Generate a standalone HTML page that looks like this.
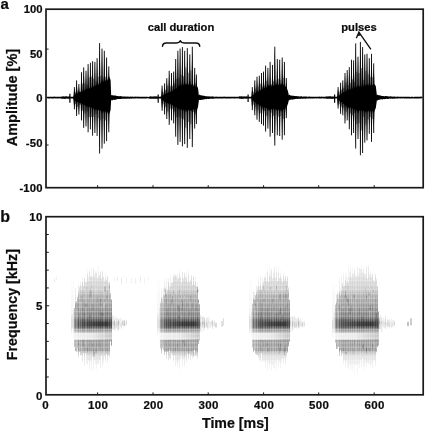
<!DOCTYPE html>
<html><head><meta charset="utf-8"><title>Oscillogram and spectrogram</title>
<style>
html,body{margin:0;padding:0;background:#fff;}
body{width:425px;height:432px;overflow:hidden;}
svg{display:block;}
text{font-family:"Liberation Sans",sans-serif;font-weight:bold;fill:#0c0c0c;stroke:#0c0c0c;stroke-width:0.22px;}
</style></head>
<body>
<svg width="425" height="432" viewBox="0 0 425 432">
<defs>
<filter id="soft" x="0" y="0" width="100%" height="100%" filterUnits="userSpaceOnUse"><feGaussianBlur stdDeviation="0.4 0.3"/></filter>
<linearGradient id="sg" gradientUnits="userSpaceOnUse" x1="0" y1="262" x2="0" y2="378">
<stop offset="0.0000" stop-color="#000" stop-opacity="0"/>
<stop offset="0.0431" stop-color="#000" stop-opacity="0.07"/>
<stop offset="0.1207" stop-color="#000" stop-opacity="0.12"/>
<stop offset="0.1897" stop-color="#000" stop-opacity="0.17"/>
<stop offset="0.2500" stop-color="#000" stop-opacity="0.21"/>
<stop offset="0.2802" stop-color="#000" stop-opacity="0.31"/>
<stop offset="0.3534" stop-color="#000" stop-opacity="0.37"/>
<stop offset="0.4138" stop-color="#000" stop-opacity="0.44"/>
<stop offset="0.4871" stop-color="#000" stop-opacity="0.54"/>
<stop offset="0.4983" stop-color="#000" stop-opacity="0.66"/>
<stop offset="0.5629" stop-color="#000" stop-opacity="0.66"/>
<stop offset="0.5819" stop-color="#000" stop-opacity="0.44"/>
<stop offset="0.6121" stop-color="#000" stop-opacity="0.24"/>
<stop offset="0.6595" stop-color="#000" stop-opacity="0.2"/>
<stop offset="0.6767" stop-color="#000" stop-opacity="0.4"/>
<stop offset="0.7672" stop-color="#000" stop-opacity="0.38"/>
<stop offset="0.7845" stop-color="#000" stop-opacity="0.2"/>
<stop offset="0.8276" stop-color="#000" stop-opacity="0.1"/>
<stop offset="0.8966" stop-color="#000" stop-opacity="0.05"/>
<stop offset="1.0000" stop-color="#000" stop-opacity="0"/>
</linearGradient>
<linearGradient id="gapg" x1="0" y1="0" x2="1" y2="0"><stop offset="0" stop-color="#fff" stop-opacity="0.7"/><stop offset="0.5" stop-color="#fff" stop-opacity="0.6"/><stop offset="1" stop-color="#fff" stop-opacity="0"/></linearGradient>
<linearGradient id="bandg0" x1="0" y1="0" x2="1" y2="0"><stop offset="0" stop-color="#000" stop-opacity="0.0"/><stop offset="0.3" stop-color="#000" stop-opacity="0.2"/><stop offset="0.55" stop-color="#000" stop-opacity="0.36"/><stop offset="0.85" stop-color="#000" stop-opacity="0.42"/><stop offset="1" stop-color="#000" stop-opacity="0.12"/></linearGradient>
<linearGradient id="bandg1" x1="0" y1="0" x2="1" y2="0"><stop offset="0" stop-color="#000" stop-opacity="0.0"/><stop offset="0.3" stop-color="#000" stop-opacity="0.2"/><stop offset="0.55" stop-color="#000" stop-opacity="0.36"/><stop offset="0.85" stop-color="#000" stop-opacity="0.42"/><stop offset="1" stop-color="#000" stop-opacity="0.12"/></linearGradient>
<linearGradient id="bandg2" x1="0" y1="0" x2="1" y2="0"><stop offset="0" stop-color="#000" stop-opacity="0.0"/><stop offset="0.3" stop-color="#000" stop-opacity="0.2"/><stop offset="0.55" stop-color="#000" stop-opacity="0.36"/><stop offset="0.85" stop-color="#000" stop-opacity="0.42"/><stop offset="1" stop-color="#000" stop-opacity="0.12"/></linearGradient>
<linearGradient id="bandg3" x1="0" y1="0" x2="1" y2="0"><stop offset="0" stop-color="#000" stop-opacity="0.0"/><stop offset="0.3" stop-color="#000" stop-opacity="0.2"/><stop offset="0.55" stop-color="#000" stop-opacity="0.36"/><stop offset="0.85" stop-color="#000" stop-opacity="0.42"/><stop offset="1" stop-color="#000" stop-opacity="0.12"/></linearGradient>
</defs>
<rect width="425" height="432" fill="#fff"/>
<g id="spectrogram" filter="url(#soft)">
<rect x="71" y="279.67" width="1" height="35.66" fill="url(#sg)" opacity="0.08"/>
<rect x="71" y="315.32" width="1" height="18.48" fill="url(#sg)" opacity="0.19"/>
<rect x="72" y="287.33" width="1" height="27.45" fill="url(#sg)" opacity="0.07"/>
<rect x="72" y="314.78" width="1" height="13.83" fill="url(#sg)" opacity="0.17"/>
<rect x="73" y="280.36" width="1" height="29.86" fill="url(#sg)" opacity="0.09"/>
<rect x="73" y="310.22" width="1" height="28.21" fill="url(#sg)" opacity="0.22"/>
<rect x="74" y="307.88" width="1" height="38.94" fill="url(#sg)" opacity="0.6"/>
<rect x="75" y="288.11" width="1" height="14" fill="url(#sg)" opacity="0.32"/>
<rect x="75" y="302.11" width="1" height="48.98" fill="url(#sg)" opacity="0.77"/>
<rect x="76" y="301.15" width="1" height="50.84" fill="url(#sg)" opacity="0.61"/>
<rect x="77" y="296.84" width="1" height="51.33" fill="url(#sg)" opacity="0.69"/>
<rect x="78" y="284.71" width="1" height="7.91" fill="url(#sg)" opacity="0.42"/>
<rect x="78" y="292.62" width="1" height="64.96" fill="url(#sg)" opacity="1"/>
<rect x="79" y="287.28" width="1" height="64.55" fill="url(#sg)" opacity="0.68"/>
<rect x="80" y="281.63" width="1" height="4.19" fill="url(#sg)" opacity="0.37"/>
<rect x="80" y="285.82" width="1" height="69.46" fill="url(#sg)" opacity="0.89"/>
<rect x="81" y="284.73" width="1" height="5.19" fill="url(#sg)" opacity="0.29"/>
<rect x="81" y="289.93" width="1" height="65.83" fill="url(#sg)" opacity="0.7"/>
<rect x="82" y="277.19" width="1" height="4.72" fill="url(#sg)" opacity="0.42"/>
<rect x="82" y="281.91" width="1" height="80.04" fill="url(#sg)" opacity="1"/>
<rect x="83" y="286.19" width="1" height="66.87" fill="url(#sg)" opacity="0.87"/>
<rect x="84" y="276.77" width="1" height="2.05" fill="url(#sg)" opacity="0.42"/>
<rect x="84" y="278.82" width="1" height="87.12" fill="url(#sg)" opacity="1"/>
<rect x="85" y="282.34" width="1" height="71.43" fill="url(#sg)" opacity="0.73"/>
<rect x="86" y="279.67" width="1" height="2.4" fill="url(#sg)" opacity="0.33"/>
<rect x="86" y="282.07" width="1" height="81.27" fill="url(#sg)" opacity="0.77"/>
<rect x="87" y="269.73" width="1" height="3.47" fill="url(#sg)" opacity="0.42"/>
<rect x="87" y="273.21" width="1" height="91.34" fill="url(#sg)" opacity="1"/>
<rect x="88" y="276.24" width="1" height="4.9" fill="url(#sg)" opacity="0.36"/>
<rect x="88" y="281.14" width="1" height="79.86" fill="url(#sg)" opacity="0.85"/>
<rect x="89" y="270.53" width="1" height="99.62" fill="url(#sg)" opacity="1"/>
<rect x="90" y="276.16" width="1" height="85.1" fill="url(#sg)" opacity="0.86"/>
<rect x="91" y="267.52" width="1" height="8.93" fill="url(#sg)" opacity="0.42"/>
<rect x="91" y="276.45" width="1" height="95.12" fill="url(#sg)" opacity="1"/>
<rect x="92" y="276.79" width="1" height="80.69" fill="url(#sg)" opacity="0.76"/>
<rect x="93" y="268.44" width="1" height="101.5" fill="url(#sg)" opacity="1"/>
<rect x="94" y="274.55" width="1" height="85.94" fill="url(#sg)" opacity="0.87"/>
<rect x="95" y="271.38" width="1" height="93.14" fill="url(#sg)" opacity="0.81"/>
<rect x="96" y="270.52" width="1" height="2.26" fill="url(#sg)" opacity="0.42"/>
<rect x="96" y="272.78" width="1" height="96.92" fill="url(#sg)" opacity="1"/>
<rect x="97" y="278.61" width="1" height="85.58" fill="url(#sg)" opacity="0.79"/>
<rect x="98" y="265.18" width="1" height="10.34" fill="url(#sg)" opacity="0.42"/>
<rect x="98" y="275.51" width="1" height="89.01" fill="url(#sg)" opacity="1"/>
<rect x="99" y="274.98" width="1" height="85.54" fill="url(#sg)" opacity="0.88"/>
<rect x="100" y="271.48" width="1" height="96.17" fill="url(#sg)" opacity="1"/>
<rect x="101" y="278.38" width="1" height="77.41" fill="url(#sg)" opacity="0.87"/>
<rect x="102" y="270.47" width="1" height="96.08" fill="url(#sg)" opacity="1"/>
<rect x="103" y="276.77" width="1" height="86.23" fill="url(#sg)" opacity="0.77"/>
<rect x="104" y="280.55" width="1" height="75.82" fill="url(#sg)" opacity="0.75"/>
<rect x="105" y="270.46" width="1" height="7.79" fill="url(#sg)" opacity="0.42"/>
<rect x="105" y="278.25" width="1" height="82.83" fill="url(#sg)" opacity="1"/>
<rect x="106" y="279.91" width="1" height="74.41" fill="url(#sg)" opacity="0.9"/>
<rect x="107" y="276.23" width="1" height="86.82" fill="url(#sg)" opacity="1"/>
<rect x="108" y="282.91" width="1" height="72.29" fill="url(#sg)" opacity="0.76"/>
<rect x="109" y="281.29" width="1" height="1.04" fill="url(#sg)" opacity="0.42"/>
<rect x="109" y="282.32" width="1" height="75.22" fill="url(#sg)" opacity="1"/>
<rect x="110" y="292.98" width="1" height="48.21" fill="url(#sg)" opacity="0.83"/>
<rect x="111" y="299.51" width="1" height="46.08" fill="url(#sg)" opacity="1"/>
<rect x="83" y="349.29" width="1" height="5.4" fill="#fff" opacity="0.09"/>
<rect x="86" y="287.13" width="1" height="3.25" fill="#000" opacity="0.11"/>
<rect x="97" y="297.1" width="1" height="5.89" fill="#000" opacity="0.11"/>
<rect x="109" y="285.22" width="1" height="2.51" fill="#000" opacity="0.11"/>
<rect x="100" y="349.95" width="1" height="4.05" fill="#fff" opacity="0.07"/>
<rect x="99" y="341.47" width="1" height="5.19" fill="#000" opacity="0.1"/>
<rect x="77" y="347.54" width="1" height="4.9" fill="#000" opacity="0.09"/>
<rect x="89" y="315.09" width="2" height="3.06" fill="#000" opacity="0.14"/>
<rect x="103" y="304.3" width="1" height="3.77" fill="#fff" opacity="0.12"/>
<rect x="104" y="298.98" width="2" height="3.77" fill="#fff" opacity="0.07"/>
<rect x="88" y="292.11" width="1" height="3.79" fill="#fff" opacity="0.08"/>
<rect x="92" y="303.95" width="1" height="6.27" fill="#000" opacity="0.14"/>
<rect x="107" y="349.98" width="1" height="5.29" fill="#000" opacity="0.07"/>
<rect x="85" y="303.46" width="2" height="3.73" fill="#000" opacity="0.15"/>
<rect x="103" y="289.37" width="1" height="2.99" fill="#fff" opacity="0.1"/>
<rect x="101" y="312.25" width="2" height="3.17" fill="#000" opacity="0.11"/>
<rect x="77" y="288.62" width="1" height="4.7" fill="#fff" opacity="0.05"/>
<rect x="104" y="302" width="1" height="4.13" fill="#fff" opacity="0.11"/>
<rect x="81" y="295.53" width="1" height="6.04" fill="#000" opacity="0.11"/>
<rect x="102" y="288.62" width="1" height="2.47" fill="#fff" opacity="0.08"/>
<rect x="102" y="313.19" width="2" height="3.26" fill="#000" opacity="0.09"/>
<rect x="87" y="351.81" width="1" height="6.87" fill="#fff" opacity="0.12"/>
<rect x="87" y="347.04" width="1" height="5.92" fill="#000" opacity="0.13"/>
<rect x="106" y="301.45" width="1" height="2.95" fill="#fff" opacity="0.1"/>
<rect x="98" y="347.34" width="1" height="5.13" fill="#fff" opacity="0.1"/>
<rect x="99" y="290.8" width="1" height="5.32" fill="#fff" opacity="0.09"/>
<rect x="79" y="313.78" width="1" height="4.81" fill="#000" opacity="0.09"/>
<rect x="90" y="294.19" width="2" height="4.84" fill="#000" opacity="0.07"/>
<rect x="103" y="302.41" width="2" height="4.97" fill="#fff" opacity="0.11"/>
<rect x="80" y="301.56" width="1" height="6.48" fill="#fff" opacity="0.09"/>
<rect x="75" y="305.42" width="1" height="2.64" fill="#000" opacity="0.13"/>
<rect x="83" y="340.6" width="1" height="5.65" fill="#000" opacity="0.12"/>
<rect x="100" y="298.74" width="1" height="2.06" fill="#000" opacity="0.13"/>
<rect x="104" y="286.55" width="2" height="5.04" fill="#000" opacity="0.15"/>
<rect x="100" y="299.03" width="1" height="6.77" fill="#000" opacity="0.14"/>
<rect x="92" y="343.26" width="1" height="3.46" fill="#000" opacity="0.16"/>
<rect x="100" y="310.48" width="1" height="5.01" fill="#000" opacity="0.1"/>
<rect x="106" y="296.05" width="2" height="3.42" fill="#000" opacity="0.09"/>
<rect x="90" y="302.77" width="1" height="6.17" fill="#fff" opacity="0.13"/>
<rect x="95" y="349.68" width="2" height="3.73" fill="#000" opacity="0.12"/>
<rect x="103" y="290.41" width="1" height="5.03" fill="#fff" opacity="0.09"/>
<rect x="82" y="308.04" width="1" height="4.68" fill="#000" opacity="0.07"/>
<rect x="89" y="292.31" width="2" height="4.53" fill="#000" opacity="0.08"/>
<rect x="78" y="293.27" width="2" height="5.9" fill="#fff" opacity="0.07"/>
<rect x="107" y="311.72" width="1" height="2.78" fill="#000" opacity="0.09"/>
<rect x="93" y="351.88" width="2" height="4.93" fill="#000" opacity="0.15"/>
<rect x="85" y="347.12" width="1" height="3.27" fill="#000" opacity="0.08"/>
<rect x="81" y="346.69" width="2" height="4.43" fill="#fff" opacity="0.13"/>
<rect x="105" y="304.47" width="1" height="3.59" fill="#000" opacity="0.07"/>
<rect x="107" y="289.85" width="1" height="6.96" fill="#000" opacity="0.06"/>
<rect x="84" y="295.26" width="1" height="5.93" fill="#fff" opacity="0.11"/>
<rect x="109" y="285.78" width="1" height="4.95" fill="#000" opacity="0.13"/>
<rect x="91" y="296.48" width="1" height="4.21" fill="#fff" opacity="0.13"/>
<rect x="106" y="298.97" width="1" height="2.39" fill="#fff" opacity="0.08"/>
<rect x="101" y="314.65" width="1" height="5.14" fill="#000" opacity="0.09"/>
<rect x="104" y="299.28" width="1" height="2.9" fill="#000" opacity="0.15"/>
<rect x="90" y="288.78" width="1" height="4.85" fill="#000" opacity="0.14"/>
<rect x="84" y="287.5" width="1" height="5.16" fill="#fff" opacity="0.13"/>
<rect x="95" y="287.81" width="2" height="6.96" fill="#fff" opacity="0.13"/>
<rect x="78" y="340.69" width="1" height="2.72" fill="#fff" opacity="0.09"/>
<rect x="93" y="349.47" width="1" height="2.93" fill="#000" opacity="0.15"/>
<rect x="83" y="302.28" width="1" height="2.98" fill="#000" opacity="0.07"/>
<rect x="96" y="342.47" width="1" height="4.91" fill="#000" opacity="0.07"/>
<rect x="101" y="307.09" width="1" height="3.41" fill="#fff" opacity="0.14"/>
<rect x="78" y="341.6" width="1" height="3.24" fill="#000" opacity="0.16"/>
<rect x="76" y="302.4" width="2" height="6.84" fill="#000" opacity="0.1"/>
<rect x="84" y="313.2" width="1" height="3.46" fill="#000" opacity="0.13"/>
<rect x="91" y="284.82" width="1" height="3.12" fill="#000" opacity="0.07"/>
<rect x="84" y="341.16" width="1" height="3.31" fill="#fff" opacity="0.11"/>
<rect x="91" y="291.63" width="1" height="2.23" fill="#000" opacity="0.11"/>
<rect x="73" y="332.8" width="36.9" height="7" fill="url(#gapg)"/>
<rect x="74" y="321.6" width="38" height="4.6" fill="url(#bandg0)"/>
<rect x="112" y="315.36" width="1" height="14" fill="#000" opacity="0.1"/>
<rect x="112" y="321.31" width="1" height="3.41" fill="#000" opacity="0.09"/>
<rect x="113" y="315.47" width="1" height="13.95" fill="#000" opacity="0.09"/>
<rect x="113" y="321.65" width="1" height="5.24" fill="#000" opacity="0.08"/>
<rect x="114" y="319.42" width="1" height="10.79" fill="#000" opacity="0.16"/>
<rect x="114" y="321.28" width="1" height="4.26" fill="#000" opacity="0.14"/>
<rect x="115" y="316.07" width="1" height="14.24" fill="#000" opacity="0.06"/>
<rect x="115" y="322.38" width="1" height="5.33" fill="#000" opacity="0.06"/>
<rect x="116" y="317.69" width="1" height="10.63" fill="#000" opacity="0.08"/>
<rect x="116" y="321.37" width="1" height="5.94" fill="#000" opacity="0.07"/>
<rect x="117" y="318.03" width="1" height="12.83" fill="#000" opacity="0.09"/>
<rect x="117" y="322.2" width="1" height="3.16" fill="#000" opacity="0.08"/>
<rect x="118" y="319.55" width="1" height="10.5" fill="#000" opacity="0.15"/>
<rect x="118" y="321" width="1" height="4.27" fill="#000" opacity="0.14"/>
<rect x="119" y="318.29" width="1" height="10.6" fill="#000" opacity="0.05"/>
<rect x="119" y="320.64" width="1" height="4.3" fill="#000" opacity="0.04"/>
<rect x="120" y="317.8" width="1" height="9.23" fill="#000" opacity="0.05"/>
<rect x="120" y="322.44" width="1" height="5.33" fill="#000" opacity="0.04"/>
<rect x="121" y="318.82" width="1" height="11.22" fill="#000" opacity="0.06"/>
<rect x="121" y="322.27" width="1" height="5.65" fill="#000" opacity="0.05"/>
<rect x="122" y="320.19" width="1" height="5.21" fill="#000" opacity="0.11"/>
<rect x="122" y="321.86" width="1" height="3.82" fill="#000" opacity="0.09"/>
<rect x="123" y="320.04" width="1" height="7.65" fill="#000" opacity="0.07"/>
<rect x="123" y="321" width="1" height="4.56" fill="#000" opacity="0.06"/>
<rect x="124" y="319.66" width="1" height="6.4" fill="#000" opacity="0.12"/>
<rect x="124" y="321.11" width="1" height="4.94" fill="#000" opacity="0.11"/>
<rect x="125" y="322.91" width="1" height="3.92" fill="#000" opacity="0.05"/>
<rect x="125" y="321.53" width="1" height="3.81" fill="#000" opacity="0.04"/>
<rect x="126" y="319.75" width="1" height="5.4" fill="#000" opacity="0.08"/>
<rect x="126" y="320.75" width="1" height="3.39" fill="#000" opacity="0.07"/>
<rect x="157" y="278.56" width="1" height="36.88" fill="url(#sg)" opacity="0.08"/>
<rect x="157" y="315.43" width="1" height="19.82" fill="url(#sg)" opacity="0.19"/>
<rect x="158" y="286.99" width="1" height="27.18" fill="url(#sg)" opacity="0.07"/>
<rect x="158" y="314.17" width="1" height="17.78" fill="url(#sg)" opacity="0.17"/>
<rect x="159" y="279.91" width="1" height="27.91" fill="url(#sg)" opacity="0.09"/>
<rect x="159" y="307.81" width="1" height="31.87" fill="url(#sg)" opacity="0.22"/>
<rect x="160" y="302.73" width="1" height="45.69" fill="url(#sg)" opacity="0.56"/>
<rect x="161" y="290.68" width="1" height="7.51" fill="url(#sg)" opacity="0.31"/>
<rect x="161" y="298.19" width="1" height="55.49" fill="url(#sg)" opacity="0.73"/>
<rect x="162" y="297.46" width="1" height="4.74" fill="url(#sg)" opacity="0.27"/>
<rect x="162" y="302.21" width="1" height="45.99" fill="url(#sg)" opacity="0.64"/>
<rect x="163" y="287.77" width="1" height="6.63" fill="url(#sg)" opacity="0.26"/>
<rect x="163" y="294.4" width="1" height="55.55" fill="url(#sg)" opacity="0.61"/>
<rect x="164" y="279.27" width="1" height="16.34" fill="url(#sg)" opacity="0.38"/>
<rect x="164" y="295.6" width="1" height="59.5" fill="url(#sg)" opacity="0.91"/>
<rect x="165" y="287.17" width="1" height="2.7" fill="url(#sg)" opacity="0.33"/>
<rect x="165" y="289.87" width="1" height="62" fill="url(#sg)" opacity="0.78"/>
<rect x="166" y="277.72" width="1" height="15.53" fill="url(#sg)" opacity="0.42"/>
<rect x="166" y="293.25" width="1" height="65.78" fill="url(#sg)" opacity="1"/>
<rect x="167" y="289.69" width="1" height="62.14" fill="url(#sg)" opacity="0.8"/>
<rect x="168" y="278.24" width="1" height="4.28" fill="url(#sg)" opacity="0.42"/>
<rect x="168" y="282.52" width="1" height="78.02" fill="url(#sg)" opacity="1"/>
<rect x="169" y="286.28" width="1" height="2.84" fill="url(#sg)" opacity="0.36"/>
<rect x="169" y="289.13" width="1" height="61.42" fill="url(#sg)" opacity="0.86"/>
<rect x="170" y="275.1" width="1" height="11.37" fill="url(#sg)" opacity="0.42"/>
<rect x="170" y="286.48" width="1" height="72.99" fill="url(#sg)" opacity="1"/>
<rect x="171" y="282.61" width="1" height="70.83" fill="url(#sg)" opacity="0.8"/>
<rect x="172" y="279.61" width="1" height="3.38" fill="url(#sg)" opacity="0.33"/>
<rect x="172" y="283" width="1" height="72.1" fill="url(#sg)" opacity="0.79"/>
<rect x="173" y="273.4" width="1" height="2.64" fill="url(#sg)" opacity="0.42"/>
<rect x="173" y="276.04" width="1" height="85.51" fill="url(#sg)" opacity="1"/>
<rect x="174" y="275.22" width="1" height="80.53" fill="url(#sg)" opacity="0.83"/>
<rect x="175" y="274.9" width="1" height="91.13" fill="url(#sg)" opacity="1"/>
<rect x="176" y="275.86" width="1" height="86.03" fill="url(#sg)" opacity="0.73"/>
<rect x="177" y="274.44" width="1" height="4.79" fill="url(#sg)" opacity="0.42"/>
<rect x="177" y="279.23" width="1" height="87.62" fill="url(#sg)" opacity="1"/>
<rect x="178" y="278.24" width="1" height="83.09" fill="url(#sg)" opacity="0.85"/>
<rect x="179" y="269.46" width="1" height="4.29" fill="url(#sg)" opacity="0.42"/>
<rect x="179" y="273.75" width="1" height="95.83" fill="url(#sg)" opacity="1"/>
<rect x="180" y="276.18" width="1" height="1.11" fill="url(#sg)" opacity="0.33"/>
<rect x="180" y="277.3" width="1" height="81.63" fill="url(#sg)" opacity="0.79"/>
<rect x="181" y="282.75" width="1" height="73.92" fill="url(#sg)" opacity="0.8"/>
<rect x="182" y="271.68" width="1" height="94.97" fill="url(#sg)" opacity="1"/>
<rect x="183" y="278.73" width="1" height="80.01" fill="url(#sg)" opacity="0.81"/>
<rect x="184" y="272.74" width="1" height="94.05" fill="url(#sg)" opacity="1"/>
<rect x="185" y="276.13" width="1" height="81.31" fill="url(#sg)" opacity="0.81"/>
<rect x="186" y="271.41" width="1" height="7.03" fill="url(#sg)" opacity="0.42"/>
<rect x="186" y="278.44" width="1" height="84.01" fill="url(#sg)" opacity="1"/>
<rect x="187" y="282.36" width="1" height="71.14" fill="url(#sg)" opacity="0.8"/>
<rect x="188" y="268.23" width="1" height="6.13" fill="url(#sg)" opacity="0.42"/>
<rect x="188" y="274.36" width="1" height="84.54" fill="url(#sg)" opacity="1"/>
<rect x="189" y="281.9" width="1" height="72" fill="url(#sg)" opacity="0.81"/>
<rect x="190" y="280.41" width="1" height="80.22" fill="url(#sg)" opacity="0.83"/>
<rect x="191" y="275.32" width="1" height="80.38" fill="url(#sg)" opacity="1"/>
<rect x="192" y="284.78" width="1" height="73.74" fill="url(#sg)" opacity="0.83"/>
<rect x="193" y="276.73" width="1" height="79.62" fill="url(#sg)" opacity="1"/>
<rect x="194" y="284.42" width="1" height="65.45" fill="url(#sg)" opacity="0.74"/>
<rect x="195" y="275.82" width="1" height="6.26" fill="url(#sg)" opacity="0.42"/>
<rect x="195" y="282.07" width="1" height="73.71" fill="url(#sg)" opacity="0.99"/>
<rect x="196" y="286.37" width="1" height="69.96" fill="url(#sg)" opacity="0.8"/>
<rect x="197" y="283.27" width="1" height="3.72" fill="url(#sg)" opacity="0.42"/>
<rect x="197" y="286.99" width="1" height="71.46" fill="url(#sg)" opacity="1"/>
<rect x="198" y="299.89" width="1" height="44.06" fill="url(#sg)" opacity="0.83"/>
<rect x="199" y="304.25" width="1" height="36.01" fill="url(#sg)" opacity="0.85"/>
<rect x="179" y="291.79" width="2" height="2.93" fill="#fff" opacity="0.08"/>
<rect x="182" y="301.08" width="1" height="6.81" fill="#000" opacity="0.15"/>
<rect x="181" y="298.94" width="1" height="3.4" fill="#000" opacity="0.14"/>
<rect x="170" y="288.16" width="2" height="4.34" fill="#fff" opacity="0.07"/>
<rect x="175" y="347.55" width="1" height="3.49" fill="#000" opacity="0.08"/>
<rect x="193" y="351.98" width="2" height="4.94" fill="#000" opacity="0.08"/>
<rect x="184" y="341.47" width="1" height="4.71" fill="#000" opacity="0.14"/>
<rect x="175" y="302.17" width="1" height="5.47" fill="#fff" opacity="0.07"/>
<rect x="168" y="350.97" width="1" height="2.96" fill="#fff" opacity="0.06"/>
<rect x="172" y="296.77" width="1" height="6.68" fill="#000" opacity="0.1"/>
<rect x="191" y="340.3" width="2" height="3.24" fill="#fff" opacity="0.08"/>
<rect x="184" y="350.95" width="1" height="5.56" fill="#000" opacity="0.06"/>
<rect x="167" y="290.34" width="1" height="5.15" fill="#fff" opacity="0.1"/>
<rect x="169" y="351.11" width="1" height="6.68" fill="#000" opacity="0.14"/>
<rect x="185" y="347.02" width="1" height="6.87" fill="#fff" opacity="0.05"/>
<rect x="173" y="295.06" width="2" height="6.99" fill="#fff" opacity="0.07"/>
<rect x="181" y="314.39" width="2" height="4.54" fill="#fff" opacity="0.07"/>
<rect x="186" y="311.09" width="1" height="6.76" fill="#fff" opacity="0.1"/>
<rect x="167" y="308.99" width="1" height="6.82" fill="#000" opacity="0.09"/>
<rect x="164" y="288.39" width="2" height="3.19" fill="#000" opacity="0.11"/>
<rect x="177" y="343.59" width="1" height="4.94" fill="#000" opacity="0.12"/>
<rect x="165" y="297.59" width="2" height="6.2" fill="#000" opacity="0.08"/>
<rect x="187" y="299.57" width="1" height="2.99" fill="#fff" opacity="0.09"/>
<rect x="165" y="294.38" width="1" height="2.23" fill="#000" opacity="0.16"/>
<rect x="179" y="294.62" width="1" height="5.23" fill="#fff" opacity="0.09"/>
<rect x="190" y="295.5" width="1" height="5.27" fill="#000" opacity="0.13"/>
<rect x="162" y="344.41" width="1" height="2.51" fill="#fff" opacity="0.08"/>
<rect x="184" y="296.14" width="1" height="2.68" fill="#fff" opacity="0.13"/>
<rect x="170" y="349.63" width="2" height="6.53" fill="#fff" opacity="0.09"/>
<rect x="179" y="289.04" width="1" height="5.44" fill="#000" opacity="0.1"/>
<rect x="197" y="286.87" width="1" height="5.61" fill="#000" opacity="0.14"/>
<rect x="193" y="343.4" width="1" height="4.57" fill="#000" opacity="0.09"/>
<rect x="177" y="305.32" width="2" height="3.48" fill="#000" opacity="0.12"/>
<rect x="174" y="286.72" width="2" height="6.86" fill="#fff" opacity="0.13"/>
<rect x="197" y="314.78" width="1" height="5.05" fill="#000" opacity="0.12"/>
<rect x="196" y="304.72" width="1" height="6.24" fill="#000" opacity="0.13"/>
<rect x="187" y="302.53" width="1" height="4.65" fill="#000" opacity="0.1"/>
<rect x="165" y="289.78" width="1" height="6.31" fill="#000" opacity="0.07"/>
<rect x="181" y="292.05" width="1" height="5.68" fill="#fff" opacity="0.1"/>
<rect x="193" y="341.61" width="1" height="5.13" fill="#fff" opacity="0.1"/>
<rect x="178" y="305.95" width="2" height="5.87" fill="#000" opacity="0.14"/>
<rect x="163" y="340.18" width="1" height="4.3" fill="#000" opacity="0.07"/>
<rect x="195" y="286.81" width="1" height="2.84" fill="#fff" opacity="0.08"/>
<rect x="189" y="310.42" width="1" height="5.61" fill="#000" opacity="0.12"/>
<rect x="165" y="341.36" width="1" height="3.27" fill="#000" opacity="0.1"/>
<rect x="192" y="302.6" width="1" height="6" fill="#000" opacity="0.12"/>
<rect x="172" y="296.19" width="1" height="6.74" fill="#000" opacity="0.09"/>
<rect x="167" y="300.06" width="1" height="2.91" fill="#fff" opacity="0.11"/>
<rect x="176" y="289.07" width="1" height="6.37" fill="#fff" opacity="0.06"/>
<rect x="173" y="290.92" width="1" height="2.85" fill="#000" opacity="0.11"/>
<rect x="182" y="340.07" width="2" height="3.67" fill="#000" opacity="0.11"/>
<rect x="197" y="288.67" width="2" height="3.37" fill="#000" opacity="0.09"/>
<rect x="182" y="300.9" width="1" height="6.36" fill="#fff" opacity="0.11"/>
<rect x="184" y="295.61" width="1" height="3.52" fill="#fff" opacity="0.12"/>
<rect x="180" y="295.21" width="1" height="2.3" fill="#000" opacity="0.09"/>
<rect x="198" y="299.41" width="1" height="2.75" fill="#000" opacity="0.15"/>
<rect x="186" y="296.96" width="1" height="2.72" fill="#fff" opacity="0.07"/>
<rect x="182" y="305.08" width="1" height="4.92" fill="#000" opacity="0.1"/>
<rect x="178" y="315.06" width="2" height="3.6" fill="#000" opacity="0.15"/>
<rect x="181" y="308.27" width="1" height="2.24" fill="#000" opacity="0.15"/>
<rect x="171" y="300.06" width="1" height="5.01" fill="#000" opacity="0.14"/>
<rect x="193" y="342.26" width="1" height="5.2" fill="#fff" opacity="0.07"/>
<rect x="173" y="344.86" width="1" height="2.87" fill="#fff" opacity="0.12"/>
<rect x="164" y="308.83" width="1" height="6.7" fill="#fff" opacity="0.05"/>
<rect x="173" y="344.98" width="1" height="2.78" fill="#000" opacity="0.08"/>
<rect x="181" y="295.45" width="1" height="5.29" fill="#fff" opacity="0.08"/>
<rect x="188" y="349.16" width="1" height="5.26" fill="#000" opacity="0.13"/>
<rect x="182" y="300.95" width="1" height="4.79" fill="#000" opacity="0.14"/>
<rect x="197" y="288.82" width="1" height="5.12" fill="#000" opacity="0.11"/>
<rect x="169" y="347.27" width="1" height="6.51" fill="#fff" opacity="0.13"/>
<rect x="159" y="332.8" width="38.7" height="7" fill="url(#gapg)"/>
<rect x="160" y="321.6" width="40" height="4.6" fill="url(#bandg1)"/>
<rect x="200" y="315.22" width="1" height="15.67" fill="#000" opacity="0.13"/>
<rect x="200" y="321.92" width="1" height="4.32" fill="#000" opacity="0.12"/>
<rect x="201" y="316.96" width="1" height="15.56" fill="#000" opacity="0.05"/>
<rect x="201" y="322.3" width="1" height="4.17" fill="#000" opacity="0.04"/>
<rect x="202" y="316.54" width="1" height="11.07" fill="#000" opacity="0.15"/>
<rect x="202" y="321.82" width="1" height="3.05" fill="#000" opacity="0.14"/>
<rect x="203" y="317" width="1" height="14.04" fill="#000" opacity="0.09"/>
<rect x="203" y="321.2" width="1" height="3.68" fill="#000" opacity="0.08"/>
<rect x="204" y="317.7" width="1" height="10.86" fill="#000" opacity="0.16"/>
<rect x="204" y="321.81" width="1" height="5.58" fill="#000" opacity="0.14"/>
<rect x="205" y="320.04" width="1" height="8.18" fill="#000" opacity="0.03"/>
<rect x="205" y="320.98" width="1" height="4.06" fill="#000" opacity="0.03"/>
<rect x="206" y="318.16" width="1" height="9.36" fill="#000" opacity="0.1"/>
<rect x="206" y="322.26" width="1" height="4.5" fill="#000" opacity="0.09"/>
<rect x="207" y="317.09" width="1" height="12.69" fill="#000" opacity="0.07"/>
<rect x="207" y="322.37" width="1" height="5.31" fill="#000" opacity="0.07"/>
<rect x="208" y="316.94" width="1" height="11.93" fill="#000" opacity="0.06"/>
<rect x="208" y="320.68" width="1" height="3.01" fill="#000" opacity="0.06"/>
<rect x="209" y="317.54" width="1" height="10.83" fill="#000" opacity="0.04"/>
<rect x="209" y="321.72" width="1" height="5.87" fill="#000" opacity="0.03"/>
<rect x="210" y="321.21" width="1" height="6.27" fill="#000" opacity="0.05"/>
<rect x="210" y="322.2" width="1" height="5.21" fill="#000" opacity="0.04"/>
<rect x="211" y="320.98" width="1" height="4.68" fill="#000" opacity="0.06"/>
<rect x="211" y="321.37" width="1" height="3.42" fill="#000" opacity="0.06"/>
<rect x="212" y="319.71" width="1" height="9.42" fill="#000" opacity="0.1"/>
<rect x="212" y="320.8" width="1" height="5.74" fill="#000" opacity="0.09"/>
<rect x="213" y="321.51" width="1" height="4" fill="#000" opacity="0.04"/>
<rect x="213" y="321.2" width="1" height="5.25" fill="#000" opacity="0.03"/>
<rect x="214" y="320.55" width="1" height="5.39" fill="#000" opacity="0.07"/>
<rect x="214" y="321.78" width="1" height="5" fill="#000" opacity="0.06"/>
<rect x="215" y="322.74" width="2" height="4.68" fill="#000" opacity="0.14"/>
<rect x="221" y="320.81" width="2" height="5.98" fill="#000" opacity="0.12"/>
<rect x="223" y="318.02" width="1" height="7.47" fill="#000" opacity="0.12"/>
<rect x="249" y="279.5" width="1" height="34.98" fill="url(#sg)" opacity="0.09"/>
<rect x="249" y="314.48" width="1" height="18.95" fill="url(#sg)" opacity="0.21"/>
<rect x="250" y="289.5" width="1" height="27.36" fill="url(#sg)" opacity="0.06"/>
<rect x="250" y="316.85" width="1" height="15.17" fill="url(#sg)" opacity="0.15"/>
<rect x="251" y="280.95" width="1" height="30.22" fill="url(#sg)" opacity="0.1"/>
<rect x="251" y="311.16" width="1" height="24.56" fill="url(#sg)" opacity="0.25"/>
<rect x="252" y="303.74" width="1" height="44.03" fill="url(#sg)" opacity="0.54"/>
<rect x="253" y="291.56" width="1" height="6.73" fill="url(#sg)" opacity="0.35"/>
<rect x="253" y="298.29" width="1" height="53.97" fill="url(#sg)" opacity="0.83"/>
<rect x="254" y="291.93" width="1" height="7.31" fill="url(#sg)" opacity="0.27"/>
<rect x="254" y="299.24" width="1" height="50.98" fill="url(#sg)" opacity="0.65"/>
<rect x="255" y="295.24" width="1" height="58.85" fill="url(#sg)" opacity="0.69"/>
<rect x="256" y="285.64" width="1" height="6.71" fill="url(#sg)" opacity="0.38"/>
<rect x="256" y="292.35" width="1" height="62.75" fill="url(#sg)" opacity="0.9"/>
<rect x="257" y="286.36" width="1" height="2.68" fill="url(#sg)" opacity="0.27"/>
<rect x="257" y="289.05" width="1" height="64.38" fill="url(#sg)" opacity="0.63"/>
<rect x="258" y="279.53" width="1" height="7.21" fill="url(#sg)" opacity="0.39"/>
<rect x="258" y="286.73" width="1" height="70.59" fill="url(#sg)" opacity="0.94"/>
<rect x="259" y="286.08" width="1" height="3.86" fill="url(#sg)" opacity="0.34"/>
<rect x="259" y="289.94" width="1" height="70.13" fill="url(#sg)" opacity="0.81"/>
<rect x="260" y="275.02" width="1" height="9.39" fill="url(#sg)" opacity="0.42"/>
<rect x="260" y="284.41" width="1" height="77.7" fill="url(#sg)" opacity="1"/>
<rect x="261" y="289.13" width="1" height="64.07" fill="url(#sg)" opacity="0.86"/>
<rect x="262" y="277.46" width="1" height="7.72" fill="url(#sg)" opacity="0.42"/>
<rect x="262" y="285.18" width="1" height="76.25" fill="url(#sg)" opacity="1"/>
<rect x="263" y="280.36" width="1" height="2.41" fill="url(#sg)" opacity="0.33"/>
<rect x="263" y="282.77" width="1" height="78.12" fill="url(#sg)" opacity="0.79"/>
<rect x="264" y="277.15" width="1" height="84.39" fill="url(#sg)" opacity="0.82"/>
<rect x="265" y="273.86" width="1" height="4.36" fill="url(#sg)" opacity="0.42"/>
<rect x="265" y="278.22" width="1" height="89.07" fill="url(#sg)" opacity="1"/>
<rect x="266" y="281.25" width="1" height="79.51" fill="url(#sg)" opacity="0.75"/>
<rect x="267" y="269.69" width="1" height="2.03" fill="url(#sg)" opacity="0.42"/>
<rect x="267" y="271.72" width="1" height="99.62" fill="url(#sg)" opacity="1"/>
<rect x="268" y="281.87" width="1" height="79.95" fill="url(#sg)" opacity="0.84"/>
<rect x="269" y="265.3" width="1" height="10.62" fill="url(#sg)" opacity="0.42"/>
<rect x="269" y="275.93" width="1" height="93.29" fill="url(#sg)" opacity="1"/>
<rect x="270" y="270.18" width="1" height="4.47" fill="url(#sg)" opacity="0.32"/>
<rect x="270" y="274.66" width="1" height="89.27" fill="url(#sg)" opacity="0.77"/>
<rect x="271" y="267.65" width="1" height="1.81" fill="url(#sg)" opacity="0.42"/>
<rect x="271" y="269.46" width="1" height="101.67" fill="url(#sg)" opacity="1"/>
<rect x="272" y="278.81" width="1" height="86.84" fill="url(#sg)" opacity="0.8"/>
<rect x="273" y="273.21" width="1" height="95.05" fill="url(#sg)" opacity="0.79"/>
<rect x="274" y="266.38" width="1" height="1.13" fill="url(#sg)" opacity="0.41"/>
<rect x="274" y="267.51" width="1" height="101.17" fill="url(#sg)" opacity="0.98"/>
<rect x="275" y="277.74" width="1" height="84.08" fill="url(#sg)" opacity="0.76"/>
<rect x="276" y="265.69" width="1" height="6.17" fill="url(#sg)" opacity="0.42"/>
<rect x="276" y="271.86" width="1" height="99.19" fill="url(#sg)" opacity="1"/>
<rect x="277" y="280.95" width="1" height="78.71" fill="url(#sg)" opacity="0.8"/>
<rect x="278" y="265.51" width="1" height="7.12" fill="url(#sg)" opacity="0.42"/>
<rect x="278" y="272.63" width="1" height="94.04" fill="url(#sg)" opacity="1"/>
<rect x="279" y="278.35" width="1" height="83.3" fill="url(#sg)" opacity="0.84"/>
<rect x="280" y="270.45" width="1" height="5.56" fill="url(#sg)" opacity="0.42"/>
<rect x="280" y="276.01" width="1" height="93.25" fill="url(#sg)" opacity="1"/>
<rect x="281" y="278.62" width="1" height="83.16" fill="url(#sg)" opacity="0.84"/>
<rect x="282" y="281.53" width="1" height="76.72" fill="url(#sg)" opacity="0.81"/>
<rect x="283" y="272.48" width="1" height="3.41" fill="url(#sg)" opacity="0.42"/>
<rect x="283" y="275.9" width="1" height="87.76" fill="url(#sg)" opacity="1"/>
<rect x="284" y="279.42" width="1" height="78.74" fill="url(#sg)" opacity="0.88"/>
<rect x="285" y="275.44" width="1" height="88.61" fill="url(#sg)" opacity="1"/>
<rect x="286" y="280.77" width="1" height="76.09" fill="url(#sg)" opacity="0.82"/>
<rect x="287" y="276.79" width="1" height="75.82" fill="url(#sg)" opacity="1"/>
<rect x="288" y="287.56" width="1" height="58.88" fill="url(#sg)" opacity="0.82"/>
<rect x="289" y="299.88" width="1" height="41.56" fill="url(#sg)" opacity="1"/>
<rect x="273" y="315.94" width="1" height="3.67" fill="#000" opacity="0.06"/>
<rect x="288" y="292.39" width="1" height="4.78" fill="#000" opacity="0.1"/>
<rect x="255" y="349.62" width="1" height="3.52" fill="#000" opacity="0.08"/>
<rect x="276" y="313.84" width="1" height="6.65" fill="#000" opacity="0.11"/>
<rect x="278" y="305.24" width="2" height="6.76" fill="#fff" opacity="0.05"/>
<rect x="261" y="342.51" width="2" height="4.03" fill="#fff" opacity="0.07"/>
<rect x="260" y="289.76" width="1" height="6.07" fill="#000" opacity="0.06"/>
<rect x="278" y="342.65" width="1" height="6.01" fill="#000" opacity="0.08"/>
<rect x="280" y="306.89" width="1" height="6.75" fill="#000" opacity="0.13"/>
<rect x="262" y="312.99" width="1" height="2.21" fill="#fff" opacity="0.08"/>
<rect x="261" y="302.63" width="1" height="6.56" fill="#000" opacity="0.14"/>
<rect x="258" y="309.58" width="1" height="3.9" fill="#fff" opacity="0.07"/>
<rect x="272" y="298.86" width="1" height="5.39" fill="#000" opacity="0.14"/>
<rect x="257" y="351.27" width="1" height="3.45" fill="#000" opacity="0.14"/>
<rect x="270" y="286.98" width="1" height="3.01" fill="#000" opacity="0.14"/>
<rect x="280" y="343.6" width="1" height="6.84" fill="#000" opacity="0.15"/>
<rect x="276" y="285.6" width="1" height="5.71" fill="#000" opacity="0.14"/>
<rect x="263" y="341.15" width="1" height="5.94" fill="#000" opacity="0.11"/>
<rect x="254" y="300.43" width="2" height="4.89" fill="#000" opacity="0.1"/>
<rect x="276" y="289.43" width="1" height="6.21" fill="#fff" opacity="0.09"/>
<rect x="258" y="312.13" width="1" height="4.68" fill="#000" opacity="0.11"/>
<rect x="259" y="301.13" width="1" height="4.02" fill="#000" opacity="0.07"/>
<rect x="261" y="311.89" width="1" height="6.72" fill="#000" opacity="0.14"/>
<rect x="273" y="306.05" width="1" height="6.99" fill="#000" opacity="0.12"/>
<rect x="257" y="302.23" width="1" height="3.22" fill="#fff" opacity="0.1"/>
<rect x="282" y="310.28" width="1" height="3.07" fill="#fff" opacity="0.07"/>
<rect x="264" y="286.69" width="1" height="3.59" fill="#fff" opacity="0.12"/>
<rect x="254" y="309.24" width="1" height="5.99" fill="#fff" opacity="0.07"/>
<rect x="285" y="305.95" width="2" height="2.19" fill="#000" opacity="0.09"/>
<rect x="255" y="303.31" width="1" height="5.93" fill="#000" opacity="0.13"/>
<rect x="265" y="348.07" width="2" height="2.67" fill="#fff" opacity="0.13"/>
<rect x="285" y="349.63" width="1" height="4.18" fill="#fff" opacity="0.12"/>
<rect x="283" y="346.38" width="1" height="2.34" fill="#fff" opacity="0.12"/>
<rect x="279" y="347.05" width="1" height="6.39" fill="#000" opacity="0.15"/>
<rect x="284" y="344.74" width="1" height="6.13" fill="#000" opacity="0.07"/>
<rect x="276" y="294.87" width="1" height="2.02" fill="#000" opacity="0.06"/>
<rect x="257" y="297.4" width="1" height="3.68" fill="#000" opacity="0.1"/>
<rect x="283" y="293.35" width="1" height="5.51" fill="#000" opacity="0.13"/>
<rect x="281" y="287.86" width="2" height="3.36" fill="#fff" opacity="0.08"/>
<rect x="261" y="303.53" width="1" height="4.5" fill="#fff" opacity="0.1"/>
<rect x="288" y="341.95" width="1" height="2" fill="#000" opacity="0.15"/>
<rect x="269" y="309.9" width="2" height="2.68" fill="#fff" opacity="0.07"/>
<rect x="268" y="294.6" width="1" height="3.53" fill="#fff" opacity="0.11"/>
<rect x="286" y="285.91" width="1" height="5.46" fill="#000" opacity="0.15"/>
<rect x="284" y="343.73" width="1" height="5.64" fill="#fff" opacity="0.05"/>
<rect x="264" y="288.38" width="1" height="4.94" fill="#000" opacity="0.06"/>
<rect x="267" y="307.92" width="1" height="5.86" fill="#000" opacity="0.11"/>
<rect x="267" y="314.4" width="1" height="5.45" fill="#000" opacity="0.08"/>
<rect x="273" y="310.43" width="1" height="4.58" fill="#fff" opacity="0.06"/>
<rect x="279" y="293.98" width="2" height="5.89" fill="#000" opacity="0.13"/>
<rect x="263" y="299.19" width="2" height="2.54" fill="#000" opacity="0.1"/>
<rect x="266" y="342.45" width="2" height="4.51" fill="#000" opacity="0.08"/>
<rect x="284" y="346.43" width="2" height="5.76" fill="#000" opacity="0.1"/>
<rect x="285" y="293.23" width="2" height="5.86" fill="#000" opacity="0.14"/>
<rect x="273" y="295.32" width="1" height="6.38" fill="#000" opacity="0.12"/>
<rect x="282" y="310.7" width="1" height="6.84" fill="#fff" opacity="0.11"/>
<rect x="280" y="314.09" width="2" height="3.96" fill="#fff" opacity="0.08"/>
<rect x="260" y="346.25" width="1" height="2.67" fill="#000" opacity="0.07"/>
<rect x="267" y="348.01" width="2" height="4.02" fill="#000" opacity="0.09"/>
<rect x="283" y="341.81" width="1" height="4.5" fill="#fff" opacity="0.13"/>
<rect x="279" y="310.27" width="2" height="5.06" fill="#000" opacity="0.07"/>
<rect x="274" y="310.38" width="1" height="2.47" fill="#fff" opacity="0.14"/>
<rect x="281" y="306.38" width="1" height="2.02" fill="#fff" opacity="0.06"/>
<rect x="263" y="285.89" width="1" height="4.69" fill="#000" opacity="0.11"/>
<rect x="263" y="313.96" width="1" height="4.78" fill="#fff" opacity="0.08"/>
<rect x="287" y="302.48" width="1" height="6.05" fill="#000" opacity="0.1"/>
<rect x="286" y="286.86" width="2" height="3.13" fill="#fff" opacity="0.14"/>
<rect x="281" y="314.76" width="2" height="4.88" fill="#000" opacity="0.16"/>
<rect x="284" y="303.77" width="2" height="2.83" fill="#fff" opacity="0.06"/>
<rect x="284" y="349.48" width="1" height="5.87" fill="#000" opacity="0.14"/>
<rect x="251" y="332.8" width="36.9" height="7" fill="url(#gapg)"/>
<rect x="252" y="321.6" width="38" height="4.6" fill="url(#bandg2)"/>
<rect x="290" y="316.34" width="1" height="16.03" fill="#000" opacity="0.1"/>
<rect x="290" y="320.55" width="1" height="5.22" fill="#000" opacity="0.09"/>
<rect x="291" y="316.02" width="1" height="14.08" fill="#000" opacity="0.03"/>
<rect x="291" y="321.34" width="1" height="5.51" fill="#000" opacity="0.03"/>
<rect x="292" y="316.79" width="1" height="13.65" fill="#000" opacity="0.15"/>
<rect x="292" y="321.62" width="1" height="4.88" fill="#000" opacity="0.13"/>
<rect x="293" y="316.77" width="1" height="12.59" fill="#000" opacity="0.05"/>
<rect x="293" y="320.71" width="1" height="5.22" fill="#000" opacity="0.05"/>
<rect x="294" y="315.71" width="1" height="12.75" fill="#000" opacity="0.1"/>
<rect x="294" y="321.93" width="1" height="5.32" fill="#000" opacity="0.09"/>
<rect x="295" y="318.06" width="1" height="10.06" fill="#000" opacity="0.08"/>
<rect x="295" y="322.27" width="1" height="4.46" fill="#000" opacity="0.07"/>
<rect x="296" y="319.01" width="1" height="7.9" fill="#000" opacity="0.09"/>
<rect x="296" y="322.29" width="1" height="5.93" fill="#000" opacity="0.08"/>
<rect x="297" y="316.8" width="1" height="11.9" fill="#000" opacity="0.06"/>
<rect x="297" y="321.28" width="1" height="4.06" fill="#000" opacity="0.05"/>
<rect x="298" y="317.51" width="1" height="10.14" fill="#000" opacity="0.14"/>
<rect x="298" y="321.06" width="1" height="5.44" fill="#000" opacity="0.13"/>
<rect x="299" y="319.82" width="1" height="8.71" fill="#000" opacity="0.07"/>
<rect x="299" y="320.82" width="1" height="5.69" fill="#000" opacity="0.06"/>
<rect x="300" y="318.52" width="1" height="7.62" fill="#000" opacity="0.06"/>
<rect x="300" y="321.96" width="1" height="4.59" fill="#000" opacity="0.05"/>
<rect x="301" y="322.64" width="1" height="4.57" fill="#000" opacity="0.06"/>
<rect x="301" y="320.67" width="1" height="5.34" fill="#000" opacity="0.06"/>
<rect x="302" y="322.23" width="1" height="5.02" fill="#000" opacity="0.09"/>
<rect x="302" y="322.22" width="1" height="4.02" fill="#000" opacity="0.08"/>
<rect x="303" y="321.03" width="1" height="6.56" fill="#000" opacity="0.04"/>
<rect x="303" y="322.31" width="1" height="3.02" fill="#000" opacity="0.04"/>
<rect x="304" y="322.73" width="1" height="3.83" fill="#000" opacity="0.07"/>
<rect x="304" y="320.7" width="1" height="5.63" fill="#000" opacity="0.06"/>
<rect x="332" y="282.94" width="1" height="37.67" fill="url(#sg)" opacity="0.09"/>
<rect x="332" y="320.62" width="1" height="16.87" fill="url(#sg)" opacity="0.22"/>
<rect x="333" y="286.84" width="1" height="29.44" fill="url(#sg)" opacity="0.07"/>
<rect x="333" y="316.29" width="1" height="16.56" fill="url(#sg)" opacity="0.17"/>
<rect x="334" y="285.43" width="1" height="25.71" fill="url(#sg)" opacity="0.09"/>
<rect x="334" y="311.14" width="1" height="28.6" fill="url(#sg)" opacity="0.22"/>
<rect x="335" y="303.79" width="1" height="1.2" fill="url(#sg)" opacity="0.24"/>
<rect x="335" y="305" width="1" height="37.75" fill="url(#sg)" opacity="0.58"/>
<rect x="336" y="294.22" width="1" height="7.89" fill="url(#sg)" opacity="0.35"/>
<rect x="336" y="302.12" width="1" height="46.92" fill="url(#sg)" opacity="0.83"/>
<rect x="337" y="291.01" width="1" height="3.32" fill="url(#sg)" opacity="0.27"/>
<rect x="337" y="294.33" width="1" height="54.13" fill="url(#sg)" opacity="0.65"/>
<rect x="338" y="292.7" width="1" height="5.05" fill="url(#sg)" opacity="0.27"/>
<rect x="338" y="297.75" width="1" height="49.22" fill="url(#sg)" opacity="0.64"/>
<rect x="339" y="279.14" width="1" height="13.24" fill="url(#sg)" opacity="0.39"/>
<rect x="339" y="292.39" width="1" height="64.06" fill="url(#sg)" opacity="0.94"/>
<rect x="340" y="288.44" width="1" height="6.88" fill="url(#sg)" opacity="0.3"/>
<rect x="340" y="295.32" width="1" height="54.86" fill="url(#sg)" opacity="0.71"/>
<rect x="341" y="275.93" width="1" height="14.98" fill="url(#sg)" opacity="0.42"/>
<rect x="341" y="290.91" width="1" height="64.99" fill="url(#sg)" opacity="1"/>
<rect x="342" y="283.72" width="1" height="69.58" fill="url(#sg)" opacity="0.84"/>
<rect x="343" y="272.96" width="1" height="13.91" fill="url(#sg)" opacity="0.41"/>
<rect x="343" y="286.87" width="1" height="76.57" fill="url(#sg)" opacity="0.97"/>
<rect x="344" y="285.65" width="1" height="74.72" fill="url(#sg)" opacity="0.82"/>
<rect x="345" y="273.4" width="1" height="6.44" fill="url(#sg)" opacity="0.42"/>
<rect x="345" y="279.84" width="1" height="87.28" fill="url(#sg)" opacity="1"/>
<rect x="346" y="275.88" width="1" height="7.47" fill="url(#sg)" opacity="0.37"/>
<rect x="346" y="283.36" width="1" height="77.95" fill="url(#sg)" opacity="0.87"/>
<rect x="347" y="276.99" width="1" height="4.28" fill="url(#sg)" opacity="0.35"/>
<rect x="347" y="281.28" width="1" height="86.72" fill="url(#sg)" opacity="0.83"/>
<rect x="348" y="266.91" width="1" height="15.92" fill="url(#sg)" opacity="0.42"/>
<rect x="348" y="282.84" width="1" height="86.07" fill="url(#sg)" opacity="1"/>
<rect x="349" y="271.99" width="1" height="5.27" fill="url(#sg)" opacity="0.33"/>
<rect x="349" y="277.26" width="1" height="87.63" fill="url(#sg)" opacity="0.78"/>
<rect x="350" y="266.84" width="1" height="3.59" fill="url(#sg)" opacity="0.42"/>
<rect x="350" y="270.44" width="1" height="99.43" fill="url(#sg)" opacity="1"/>
<rect x="351" y="275.86" width="1" height="1.87" fill="url(#sg)" opacity="0.32"/>
<rect x="351" y="277.74" width="1" height="89.5" fill="url(#sg)" opacity="0.76"/>
<rect x="352" y="267.52" width="1" height="7" fill="url(#sg)" opacity="0.42"/>
<rect x="352" y="274.52" width="1" height="96.83" fill="url(#sg)" opacity="1"/>
<rect x="353" y="273.39" width="1" height="91.09" fill="url(#sg)" opacity="0.73"/>
<rect x="354" y="268.88" width="1" height="1.31" fill="url(#sg)" opacity="0.42"/>
<rect x="354" y="270.19" width="1" height="107.22" fill="url(#sg)" opacity="0.99"/>
<rect x="355" y="274.86" width="1" height="90.49" fill="url(#sg)" opacity="0.75"/>
<rect x="356" y="276.75" width="1" height="88.36" fill="url(#sg)" opacity="0.75"/>
<rect x="357" y="267.26" width="1" height="107.89" fill="url(#sg)" opacity="1"/>
<rect x="358" y="274.85" width="1" height="88.49" fill="url(#sg)" opacity="0.82"/>
<rect x="359" y="268.21" width="1" height="99.68" fill="url(#sg)" opacity="1"/>
<rect x="360" y="269.18" width="1" height="91.59" fill="url(#sg)" opacity="0.75"/>
<rect x="361" y="264.86" width="1" height="3.72" fill="url(#sg)" opacity="0.42"/>
<rect x="361" y="268.58" width="1" height="98.56" fill="url(#sg)" opacity="1"/>
<rect x="362" y="269.94" width="1" height="3.37" fill="url(#sg)" opacity="0.35"/>
<rect x="362" y="273.31" width="1" height="85.61" fill="url(#sg)" opacity="0.84"/>
<rect x="363" y="266.13" width="1" height="4.35" fill="url(#sg)" opacity="0.42"/>
<rect x="363" y="270.48" width="1" height="101.32" fill="url(#sg)" opacity="1"/>
<rect x="364" y="273.74" width="1" height="92.89" fill="url(#sg)" opacity="0.88"/>
<rect x="365" y="274.47" width="1" height="87.5" fill="url(#sg)" opacity="0.83"/>
<rect x="366" y="265.84" width="1" height="101.25" fill="url(#sg)" opacity="1"/>
<rect x="367" y="279.01" width="1" height="83.62" fill="url(#sg)" opacity="0.83"/>
<rect x="368" y="265.18" width="1" height="98.89" fill="url(#sg)" opacity="1"/>
<rect x="369" y="274.6" width="1" height="87.46" fill="url(#sg)" opacity="0.74"/>
<rect x="370" y="270.04" width="1" height="4.37" fill="url(#sg)" opacity="0.42"/>
<rect x="370" y="274.41" width="1" height="92.38" fill="url(#sg)" opacity="1"/>
<rect x="371" y="276.48" width="1" height="86.84" fill="url(#sg)" opacity="0.77"/>
<rect x="372" y="273.76" width="1" height="95.15" fill="url(#sg)" opacity="1"/>
<rect x="373" y="280.03" width="1" height="80.44" fill="url(#sg)" opacity="0.79"/>
<rect x="374" y="281.39" width="1" height="79.92" fill="url(#sg)" opacity="0.84"/>
<rect x="375" y="274.31" width="1" height="91.63" fill="url(#sg)" opacity="1"/>
<rect x="376" y="279.28" width="1" height="73.05" fill="url(#sg)" opacity="0.87"/>
<rect x="377" y="286.59" width="1" height="60.41" fill="url(#sg)" opacity="1"/>
<rect x="378" y="311.35" width="1" height="34.08" fill="url(#sg)" opacity="0.79"/>
<rect x="366" y="295.86" width="1" height="3.43" fill="#000" opacity="0.14"/>
<rect x="345" y="291.01" width="1" height="5.21" fill="#000" opacity="0.15"/>
<rect x="338" y="305.24" width="2" height="4.19" fill="#000" opacity="0.11"/>
<rect x="365" y="287" width="1" height="4.13" fill="#000" opacity="0.08"/>
<rect x="347" y="298.21" width="1" height="4.55" fill="#000" opacity="0.08"/>
<rect x="361" y="316" width="2" height="4.62" fill="#000" opacity="0.08"/>
<rect x="371" y="286.66" width="1" height="2.37" fill="#000" opacity="0.09"/>
<rect x="344" y="295.56" width="2" height="3.29" fill="#000" opacity="0.12"/>
<rect x="369" y="312.89" width="1" height="5.86" fill="#fff" opacity="0.06"/>
<rect x="351" y="296.4" width="1" height="5.28" fill="#fff" opacity="0.11"/>
<rect x="337" y="298.67" width="1" height="4.2" fill="#000" opacity="0.08"/>
<rect x="367" y="344.82" width="1" height="2.06" fill="#fff" opacity="0.07"/>
<rect x="356" y="300.37" width="1" height="2.96" fill="#000" opacity="0.09"/>
<rect x="368" y="292.67" width="2" height="2.89" fill="#000" opacity="0.13"/>
<rect x="359" y="308.64" width="1" height="5.03" fill="#000" opacity="0.11"/>
<rect x="352" y="301.99" width="1" height="6.55" fill="#fff" opacity="0.06"/>
<rect x="349" y="308.1" width="2" height="5.95" fill="#000" opacity="0.12"/>
<rect x="345" y="351.61" width="2" height="2.47" fill="#000" opacity="0.14"/>
<rect x="376" y="312.93" width="1" height="4.1" fill="#000" opacity="0.14"/>
<rect x="369" y="304.91" width="2" height="5.29" fill="#000" opacity="0.14"/>
<rect x="373" y="290.17" width="2" height="2.91" fill="#fff" opacity="0.07"/>
<rect x="346" y="295.72" width="1" height="5.12" fill="#000" opacity="0.13"/>
<rect x="369" y="348.14" width="1" height="4.33" fill="#000" opacity="0.16"/>
<rect x="376" y="315.07" width="1" height="6.5" fill="#000" opacity="0.13"/>
<rect x="351" y="305.23" width="1" height="6.39" fill="#000" opacity="0.11"/>
<rect x="372" y="304.68" width="1" height="4.88" fill="#000" opacity="0.13"/>
<rect x="354" y="340.21" width="1" height="3.97" fill="#000" opacity="0.12"/>
<rect x="348" y="342.98" width="1" height="3.85" fill="#fff" opacity="0.11"/>
<rect x="343" y="347.99" width="1" height="2.99" fill="#000" opacity="0.11"/>
<rect x="366" y="292.72" width="1" height="5.48" fill="#000" opacity="0.08"/>
<rect x="347" y="306.76" width="1" height="6.67" fill="#fff" opacity="0.06"/>
<rect x="350" y="294.25" width="1" height="3.67" fill="#fff" opacity="0.07"/>
<rect x="347" y="286.03" width="1" height="3.71" fill="#000" opacity="0.08"/>
<rect x="374" y="341.85" width="2" height="3.93" fill="#fff" opacity="0.07"/>
<rect x="369" y="309.66" width="2" height="6.02" fill="#fff" opacity="0.07"/>
<rect x="340" y="305.23" width="1" height="2.54" fill="#fff" opacity="0.07"/>
<rect x="347" y="297.55" width="1" height="5.62" fill="#000" opacity="0.09"/>
<rect x="362" y="306.12" width="1" height="6.98" fill="#fff" opacity="0.06"/>
<rect x="339" y="348.45" width="1" height="3.98" fill="#000" opacity="0.09"/>
<rect x="368" y="294.1" width="1" height="2.88" fill="#fff" opacity="0.07"/>
<rect x="337" y="309.12" width="2" height="4.65" fill="#fff" opacity="0.06"/>
<rect x="339" y="343.03" width="1" height="4.25" fill="#fff" opacity="0.13"/>
<rect x="353" y="349.36" width="1" height="5.09" fill="#000" opacity="0.11"/>
<rect x="362" y="351.77" width="1" height="2.32" fill="#fff" opacity="0.05"/>
<rect x="363" y="344.09" width="1" height="2.72" fill="#fff" opacity="0.11"/>
<rect x="366" y="348.04" width="1" height="5.5" fill="#000" opacity="0.14"/>
<rect x="361" y="291.67" width="1" height="3.81" fill="#fff" opacity="0.09"/>
<rect x="359" y="351.28" width="2" height="4.36" fill="#fff" opacity="0.1"/>
<rect x="348" y="298.89" width="1" height="6.58" fill="#000" opacity="0.15"/>
<rect x="357" y="346.15" width="1" height="6.88" fill="#fff" opacity="0.08"/>
<rect x="366" y="311.16" width="1" height="6.32" fill="#000" opacity="0.06"/>
<rect x="367" y="312.78" width="1" height="6.24" fill="#fff" opacity="0.07"/>
<rect x="351" y="295.99" width="1" height="2.06" fill="#fff" opacity="0.12"/>
<rect x="368" y="349.8" width="1" height="6.95" fill="#fff" opacity="0.12"/>
<rect x="369" y="304.99" width="1" height="3.2" fill="#fff" opacity="0.11"/>
<rect x="338" y="312.67" width="1" height="5.97" fill="#fff" opacity="0.14"/>
<rect x="375" y="299.05" width="1" height="3.8" fill="#000" opacity="0.07"/>
<rect x="372" y="344.44" width="1" height="4.49" fill="#000" opacity="0.15"/>
<rect x="362" y="344.54" width="2" height="3.59" fill="#000" opacity="0.14"/>
<rect x="366" y="347.2" width="1" height="4.42" fill="#000" opacity="0.15"/>
<rect x="363" y="344.36" width="1" height="5.27" fill="#000" opacity="0.11"/>
<rect x="359" y="284.76" width="1" height="6.1" fill="#fff" opacity="0.08"/>
<rect x="345" y="342.63" width="2" height="2.79" fill="#fff" opacity="0.06"/>
<rect x="353" y="294.47" width="2" height="4.73" fill="#000" opacity="0.13"/>
<rect x="342" y="314.61" width="1" height="2.09" fill="#fff" opacity="0.13"/>
<rect x="341" y="340.67" width="1" height="6.51" fill="#fff" opacity="0.11"/>
<rect x="365" y="290.88" width="1" height="2.77" fill="#000" opacity="0.06"/>
<rect x="342" y="306" width="2" height="2.27" fill="#fff" opacity="0.12"/>
<rect x="373" y="289.29" width="1" height="3.16" fill="#000" opacity="0.15"/>
<rect x="376" y="345.55" width="1" height="3.36" fill="#fff" opacity="0.13"/>
<rect x="334" y="332.8" width="42.3" height="7" fill="url(#gapg)"/>
<rect x="335" y="321.6" width="44" height="4.6" fill="url(#bandg3)"/>
<rect x="379" y="317.67" width="1" height="11.32" fill="#000" opacity="0.18"/>
<rect x="379" y="320.67" width="1" height="3.21" fill="#000" opacity="0.16"/>
<rect x="380" y="314.84" width="1" height="15.18" fill="#000" opacity="0.08"/>
<rect x="380" y="321.42" width="1" height="4.92" fill="#000" opacity="0.07"/>
<rect x="381" y="316.41" width="1" height="15.79" fill="#000" opacity="0.1"/>
<rect x="381" y="320.99" width="1" height="3.6" fill="#000" opacity="0.09"/>
<rect x="382" y="318.77" width="1" height="10.17" fill="#000" opacity="0.06"/>
<rect x="382" y="321.11" width="1" height="3.49" fill="#000" opacity="0.05"/>
<rect x="383" y="317.62" width="1" height="9.91" fill="#000" opacity="0.06"/>
<rect x="383" y="321.13" width="1" height="4.51" fill="#000" opacity="0.06"/>
<rect x="384" y="318.77" width="1" height="9.1" fill="#000" opacity="0.06"/>
<rect x="384" y="322.45" width="1" height="4.46" fill="#000" opacity="0.05"/>
<rect x="385" y="316.06" width="1" height="13.07" fill="#000" opacity="0.1"/>
<rect x="385" y="321.68" width="1" height="3.43" fill="#000" opacity="0.09"/>
<rect x="386" y="320.2" width="1" height="7.82" fill="#000" opacity="0.03"/>
<rect x="386" y="322.43" width="1" height="4.21" fill="#000" opacity="0.03"/>
<rect x="387" y="318.89" width="1" height="8.32" fill="#000" opacity="0.09"/>
<rect x="387" y="321.88" width="1" height="4.18" fill="#000" opacity="0.08"/>
<rect x="388" y="320.46" width="1" height="6.51" fill="#000" opacity="0.07"/>
<rect x="388" y="320.51" width="1" height="5.55" fill="#000" opacity="0.06"/>
<rect x="389" y="319.2" width="1" height="9.37" fill="#000" opacity="0.08"/>
<rect x="389" y="322.34" width="1" height="4.2" fill="#000" opacity="0.07"/>
<rect x="390" y="320.16" width="1" height="7" fill="#000" opacity="0.04"/>
<rect x="390" y="321.83" width="1" height="5.21" fill="#000" opacity="0.03"/>
<rect x="391" y="318.35" width="1" height="9.5" fill="#000" opacity="0.05"/>
<rect x="391" y="322.2" width="1" height="5.37" fill="#000" opacity="0.05"/>
<rect x="392" y="319.65" width="1" height="6.74" fill="#000" opacity="0.05"/>
<rect x="392" y="322.39" width="1" height="4.65" fill="#000" opacity="0.05"/>
<rect x="393" y="319.84" width="1" height="5.02" fill="#000" opacity="0.05"/>
<rect x="393" y="322.3" width="1" height="5.4" fill="#000" opacity="0.05"/>
<rect x="394" y="321.11" width="1" height="4.62" fill="#000" opacity="0.15"/>
<rect x="407" y="321.8" width="2" height="4.27" fill="#000" opacity="0.24"/>
<rect x="410" y="318.27" width="2" height="7" fill="#000" opacity="0.2"/>
<rect x="54" y="278.14" width="1" height="3.9" fill="#000" opacity="0.08"/>
<rect x="56" y="276.54" width="1" height="3.98" fill="#000" opacity="0.05"/>
<rect x="114" y="278.11" width="1" height="3.87" fill="#000" opacity="0.06"/>
<rect x="117" y="276.62" width="1" height="4.16" fill="#000" opacity="0.09"/>
<rect x="121" y="277.94" width="1" height="5.78" fill="#000" opacity="0.1"/>
<rect x="126" y="277.6" width="1" height="5.8" fill="#000" opacity="0.05"/>
<rect x="131" y="278.35" width="1" height="4.59" fill="#000" opacity="0.06"/>
<rect x="135" y="278" width="1" height="5.65" fill="#000" opacity="0.07"/>
<rect x="140" y="276.69" width="1" height="5.68" fill="#000" opacity="0.09"/>
<rect x="144" y="277.69" width="1" height="5.94" fill="#000" opacity="0.05"/>
<rect x="148" y="276.61" width="1" height="3.81" fill="#000" opacity="0.05"/>
<rect x="60" y="266.5" width="330" height="1.3" fill="#fff" opacity="0.22"/>
<rect x="60" y="270.95" width="330" height="1.3" fill="#fff" opacity="0.22"/>
<rect x="60" y="275.4" width="330" height="1.3" fill="#fff" opacity="0.22"/>
<rect x="60" y="279.85" width="330" height="1.3" fill="#fff" opacity="0.22"/>
<rect x="60" y="284.3" width="330" height="1.3" fill="#fff" opacity="0.22"/>
<rect x="60" y="288.75" width="330" height="1.3" fill="#fff" opacity="0.22"/>
<rect x="60" y="293.2" width="330" height="1.3" fill="#fff" opacity="0.22"/>
<rect x="60" y="297.65" width="330" height="1.3" fill="#fff" opacity="0.22"/>
<rect x="60" y="302.1" width="330" height="1.3" fill="#fff" opacity="0.22"/>
<rect x="60" y="306.55" width="330" height="1.3" fill="#fff" opacity="0.22"/>
<rect x="60" y="311" width="330" height="1.3" fill="#fff" opacity="0.22"/>
<rect x="60" y="315.45" width="330" height="1.3" fill="#fff" opacity="0.22"/>
<rect x="60" y="328.8" width="330" height="1.3" fill="#fff" opacity="0.22"/>
<rect x="60" y="333.25" width="330" height="1.3" fill="#fff" opacity="0.22"/>
<rect x="60" y="337.7" width="330" height="1.3" fill="#fff" opacity="0.22"/>
<rect x="60" y="342.15" width="330" height="1.3" fill="#fff" opacity="0.22"/>
<rect x="60" y="346.6" width="330" height="1.3" fill="#fff" opacity="0.22"/>
<rect x="60" y="351.05" width="330" height="1.3" fill="#fff" opacity="0.22"/>
<rect x="60" y="355.5" width="330" height="1.3" fill="#fff" opacity="0.22"/>
<rect x="60" y="359.95" width="330" height="1.3" fill="#fff" opacity="0.22"/>
<rect x="60" y="364.4" width="330" height="1.3" fill="#fff" opacity="0.22"/>
<rect x="60" y="368.85" width="330" height="1.3" fill="#fff" opacity="0.22"/>
<rect x="60" y="373.3" width="330" height="1.3" fill="#fff" opacity="0.22"/>
</g>
<g id="waveform">
<polygon fill="#000" points="46.5,96.79 47.3,96.7 48.1,96.73 48.9,96.86 49.7,96.87 50.5,96.86 51.3,96.76 52.1,96.85 52.9,96.7 53.7,96.72 54.5,96.61 55.3,96.64 56.1,96.84 56.9,96.79 57.7,96.83 58.5,96.7 59.3,96.73 60.1,96.86 60.9,96.69 61.7,96.51 62.5,96.46 63.3,96.34 64.1,96.54 64.9,96.44 65.7,96.36 66.5,96.27 67.3,96.48 68.1,96.57 68.9,96.62 69.7,96.35 70.5,96.63 71.3,96.69 72.1,96.72 72.9,96.64 73.7,96.75 74.5,96.86 75.3,96.7 76.1,96.65 76.9,96.77 77.7,96.87 78.5,96.83 79.3,96.86 80.1,96.84 80.9,96.77 81.7,96.86 82.5,96.73 83.3,96.65 84.1,96.8 84.9,96.78 85.7,96.61 86.5,96.83 87.3,96.81 88.1,96.72 88.9,96.88 89.7,96.78 90.5,96.61 91.3,96.74 92.1,96.69 92.9,96.63 93.7,96.64 94.5,96.77 95.3,96.85 96.1,96.86 96.9,96.82 97.7,96.78 98.5,96.88 99.3,96.85 100.1,96.87 100.9,96.71 101.7,96.81 102.5,96.78 103.3,96.64 104.1,96.75 104.9,96.86 105.7,96.78 106.5,96.65 107.3,96.87 108.1,96.73 108.9,96.73 109.7,96.73 110.5,96.64 111.3,95.04 112.1,95.31 112.9,95.23 113.7,95.54 114.5,95.38 115.3,95.5 116.1,95.65 116.9,96.08 117.7,96.1 118.5,96.33 119.3,96.29 120.1,96.05 120.9,96.13 121.7,96.18 122.5,96.51 123.3,96.55 124.1,96.43 124.9,96.39 125.7,96.48 126.5,96.7 127.3,96.44 128.1,96.52 128.9,96.71 129.7,96.68 130.5,96.49 131.3,96.68 132.1,96.59 132.9,96.78 133.7,96.63 134.5,96.84 135.3,96.61 136.1,96.78 136.9,96.84 137.7,96.61 138.5,96.73 139.3,96.76 140.1,96.65 140.9,96.81 141.7,96.81 142.5,96.81 143.3,96.84 144.1,96.78 144.9,96.72 145.7,96.76 146.5,96.74 147.3,96.73 148.1,96.76 148.9,96.88 149.7,96.57 150.5,96.36 151.3,96.51 152.1,96.43 152.9,96.59 153.7,96.54 154.5,96.35 155.3,96.42 156.1,96.29 156.9,96.4 157.7,96.44 158.5,96.75 159.3,96.75 160.1,96.68 160.9,96.62 161.7,96.72 162.5,96.64 163.3,96.85 164.1,96.86 164.9,96.86 165.7,96.66 166.5,96.84 167.3,96.7 168.1,96.63 168.9,96.82 169.7,96.77 170.5,96.6 171.3,96.83 172.1,96.74 172.9,96.83 173.7,96.68 174.5,96.72 175.3,96.87 176.1,96.71 176.9,96.86 177.7,96.66 178.5,96.85 179.3,96.87 180.1,96.8 180.9,96.76 181.7,96.65 182.5,96.84 183.3,96.72 184.1,96.85 184.9,96.69 185.7,96.86 186.5,96.7 187.3,96.86 188.1,96.86 188.9,96.75 189.7,96.73 190.5,96.8 191.3,96.73 192.1,96.85 192.9,96.87 193.7,96.79 194.5,96.67 195.3,96.74 196.1,96.78 196.9,96.81 197.7,96.67 198.5,96.83 199.3,94.59 200.1,94.91 200.9,95.34 201.7,95.57 202.5,95.53 203.3,95.86 204.1,95.77 204.9,96.03 205.7,96.28 206.5,96.34 207.3,96.32 208.1,96.45 208.9,96.18 209.7,96.46 210.5,96.5 211.3,96.58 212.1,96.57 212.9,96.36 213.7,96.63 214.5,96.63 215.3,96.75 216.1,96.61 216.9,96.71 217.7,96.79 218.5,96.77 219.3,96.8 220.1,96.73 220.9,96.72 221.7,96.67 222.5,96.68 223.3,96.77 224.1,96.6 224.9,96.68 225.7,96.87 226.5,96.63 227.3,96.67 228.1,96.84 228.9,96.74 229.7,96.65 230.5,96.72 231.3,96.69 232.1,96.82 232.9,96.84 233.7,96.85 234.5,96.72 235.3,96.7 236.1,96.74 236.9,96.66 237.7,96.74 238.5,96.7 239.3,96.36 240.1,96.6 240.9,96.36 241.7,96.36 242.5,96.45 243.3,96.45 244.1,96.35 244.9,96.39 245.7,96.58 246.5,96.36 247.3,96.42 248.1,96.86 248.9,96.69 249.7,96.69 250.5,96.74 251.3,96.75 252.1,96.63 252.9,96.61 253.7,96.88 254.5,96.65 255.3,96.75 256.1,96.82 256.9,96.82 257.7,96.84 258.5,96.61 259.3,96.65 260.1,96.63 260.9,96.82 261.7,96.74 262.5,96.88 263.3,96.75 264.1,96.84 264.9,96.79 265.7,96.88 266.5,96.65 267.3,96.62 268.1,96.63 268.9,96.78 269.7,96.6 270.5,96.78 271.3,96.8 272.1,96.85 272.9,96.8 273.7,96.81 274.5,96.74 275.3,96.78 276.1,96.63 276.9,96.7 277.7,96.62 278.5,96.68 279.3,96.67 280.1,96.67 280.9,96.8 281.7,96.62 282.5,96.75 283.3,96.8 284.1,96.61 284.9,96.7 285.7,96.72 286.5,96.83 287.3,96.82 288.1,96.74 288.9,94.49 289.7,95.09 290.5,95.47 291.3,95.53 292.1,95.74 292.9,95.67 293.7,95.69 294.5,95.98 295.3,96.09 296.1,96.31 296.9,95.97 297.7,96.25 298.5,96.16 299.3,96.45 300.1,96.44 300.9,96.27 301.7,96.34 302.5,96.67 303.3,96.4 304.1,96.53 304.9,96.61 305.7,96.49 306.5,96.46 307.3,96.75 308.1,96.63 308.9,96.52 309.7,96.62 310.5,96.68 311.3,96.87 312.1,96.81 312.9,96.7 313.7,96.84 314.5,96.7 315.3,96.85 316.1,96.73 316.9,96.77 317.7,96.71 318.5,96.8 319.3,96.61 320.1,96.63 320.9,96.81 321.7,96.61 322.5,96.79 323.3,96.74 324.1,96.76 324.9,96.69 325.7,96.55 326.5,96.51 327.3,96.38 328.1,96.34 328.9,96.44 329.7,96.27 330.5,96.33 331.3,96.55 332.1,96.52 332.9,96.45 333.7,96.55 334.5,96.39 335.3,96.84 336.1,96.82 336.9,96.84 337.7,96.86 338.5,96.63 339.3,96.67 340.1,96.62 340.9,96.83 341.7,96.67 342.5,96.69 343.3,96.78 344.1,96.83 344.9,96.8 345.7,96.61 346.5,96.61 347.3,96.78 348.1,96.65 348.9,96.87 349.7,96.78 350.5,96.83 351.3,96.63 352.1,96.76 352.9,96.67 353.7,96.87 354.5,96.62 355.3,96.67 356.1,96.79 356.9,96.61 357.7,96.81 358.5,96.79 359.3,96.88 360.1,96.62 360.9,96.62 361.7,96.81 362.5,96.61 363.3,96.77 364.1,96.76 364.9,96.62 365.7,96.66 366.5,96.65 367.3,96.71 368.1,96.79 368.9,96.66 369.7,96.82 370.5,96.81 371.3,96.87 372.1,96.79 372.9,96.63 373.7,96.81 374.5,96.85 375.3,96.68 376.1,96.81 376.9,94.73 377.7,94.86 378.5,95.13 379.3,95.19 380.1,95.53 380.9,95.57 381.7,95.97 382.5,96.11 383.3,95.99 384.1,96.16 384.9,96.18 385.7,96.12 386.5,96.1 387.3,96.36 388.1,96.27 388.9,96.61 389.7,96.61 390.5,96.34 391.3,96.38 392.1,96.43 392.9,96.66 393.7,96.45 394.5,96.58 395.3,96.72 396.1,96.75 396.9,96.73 397.7,96.62 398.5,96.82 399.3,96.69 400.1,96.79 400.9,96.66 401.7,96.86 402.5,96.77 403.3,96.7 404.1,96.83 404.9,96.77 405.7,96.79 406.5,96.79 407.3,96.78 408.1,96.64 408.9,96.78 409.7,96.68 410.5,96.88 411.3,96.76 412.1,96.77 412.9,96.75 413.7,96.88 414.5,96.7 415.3,96.86 416.1,96.78 416.9,96.84 417.7,96.73 418.5,96.85 419.3,96.65 420.1,96.82 420.9,96.62 421.7,96.74 422.5,96.62 422.5,98.43 421.7,98.33 420.9,98.59 420.1,98.36 419.3,98.59 418.5,98.46 417.7,98.58 416.9,98.4 416.1,98.46 415.3,98.49 414.5,98.57 413.7,98.47 412.9,98.37 412.1,98.57 411.3,98.55 410.5,98.57 409.7,98.38 408.9,98.38 408.1,98.6 407.3,98.44 406.5,98.48 405.7,98.59 404.9,98.4 404.1,98.51 403.3,98.35 402.5,98.47 401.7,98.35 400.9,98.47 400.1,98.38 399.3,98.37 398.5,98.48 397.7,98.45 396.9,98.58 396.1,98.47 395.3,98.53 394.5,98.63 393.7,98.48 392.9,98.71 392.1,98.63 391.3,98.62 390.5,98.72 389.7,98.61 388.9,98.68 388.1,98.96 387.3,98.97 386.5,98.73 385.7,99.02 384.9,98.9 384.1,99.32 383.3,99.09 382.5,99.47 381.7,99.23 380.9,99.31 380.1,99.55 379.3,99.64 378.5,99.68 377.7,100.42 376.9,100.52 376.1,98.44 375.3,98.45 374.5,98.46 373.7,98.34 372.9,98.6 372.1,98.59 371.3,98.47 370.5,98.34 369.7,98.53 368.9,98.34 368.1,98.42 367.3,98.41 366.5,98.54 365.7,98.53 364.9,98.37 364.1,98.46 363.3,98.39 362.5,98.59 361.7,98.45 360.9,98.33 360.1,98.5 359.3,98.53 358.5,98.4 357.7,98.52 356.9,98.49 356.1,98.4 355.3,98.57 354.5,98.39 353.7,98.34 352.9,98.33 352.1,98.55 351.3,98.33 350.5,98.42 349.7,98.58 348.9,98.45 348.1,98.44 347.3,98.55 346.5,98.38 345.7,98.35 344.9,98.42 344.1,98.32 343.3,98.41 342.5,98.43 341.7,98.33 340.9,98.58 340.1,98.41 339.3,98.6 338.5,98.57 337.7,98.43 336.9,98.33 336.1,98.59 335.3,98.43 334.5,98.92 333.7,98.72 332.9,98.64 332.1,98.92 331.3,98.85 330.5,98.65 329.7,98.68 328.9,98.65 328.1,98.84 327.3,98.64 326.5,98.72 325.7,98.58 324.9,98.58 324.1,98.39 323.3,98.51 322.5,98.33 321.7,98.52 320.9,98.39 320.1,98.45 319.3,98.5 318.5,98.45 317.7,98.32 316.9,98.38 316.1,98.48 315.3,98.34 314.5,98.52 313.7,98.39 312.9,98.41 312.1,98.58 311.3,98.54 310.5,98.54 309.7,98.62 308.9,98.62 308.1,98.62 307.3,98.46 306.5,98.51 305.7,98.72 304.9,98.76 304.1,98.48 303.3,98.66 302.5,98.77 301.7,98.55 300.9,98.89 300.1,98.78 299.3,98.75 298.5,98.78 297.7,99.01 296.9,98.85 296.1,98.99 295.3,99.09 294.5,99.28 293.7,99.32 292.9,99.72 292.1,99.47 291.3,99.5 290.5,99.65 289.7,99.86 288.9,100.79 288.1,98.38 287.3,98.57 286.5,98.37 285.7,98.43 284.9,98.4 284.1,98.39 283.3,98.53 282.5,98.42 281.7,98.36 280.9,98.33 280.1,98.5 279.3,98.45 278.5,98.33 277.7,98.47 276.9,98.58 276.1,98.55 275.3,98.59 274.5,98.37 273.7,98.39 272.9,98.58 272.1,98.55 271.3,98.33 270.5,98.44 269.7,98.48 268.9,98.43 268.1,98.4 267.3,98.52 266.5,98.35 265.7,98.53 264.9,98.56 264.1,98.42 263.3,98.4 262.5,98.46 261.7,98.33 260.9,98.57 260.1,98.52 259.3,98.46 258.5,98.36 257.7,98.47 256.9,98.48 256.1,98.58 255.3,98.4 254.5,98.59 253.7,98.45 252.9,98.58 252.1,98.38 251.3,98.35 250.5,98.45 249.7,98.4 248.9,98.51 248.1,98.4 247.3,98.57 246.5,98.68 245.7,98.66 244.9,98.6 244.1,98.8 243.3,98.82 242.5,98.71 241.7,98.93 240.9,98.65 240.1,98.67 239.3,98.66 238.5,98.34 237.7,98.47 236.9,98.53 236.1,98.32 235.3,98.51 234.5,98.5 233.7,98.55 232.9,98.42 232.1,98.33 231.3,98.51 230.5,98.57 229.7,98.55 228.9,98.55 228.1,98.47 227.3,98.55 226.5,98.5 225.7,98.55 224.9,98.5 224.1,98.36 223.3,98.41 222.5,98.57 221.7,98.5 220.9,98.47 220.1,98.45 219.3,98.4 218.5,98.52 217.7,98.49 216.9,98.58 216.1,98.6 215.3,98.57 214.5,98.59 213.7,98.81 212.9,98.7 212.1,98.87 211.3,98.72 210.5,98.76 209.7,98.72 208.9,98.94 208.1,99.07 207.3,98.84 206.5,99.16 205.7,98.95 204.9,99.14 204.1,99.39 203.3,99.62 202.5,99.85 201.7,99.7 200.9,100.1 200.1,99.99 199.3,99.93 198.5,98.45 197.7,98.47 196.9,98.32 196.1,98.33 195.3,98.37 194.5,98.4 193.7,98.41 192.9,98.38 192.1,98.37 191.3,98.39 190.5,98.36 189.7,98.58 188.9,98.41 188.1,98.56 187.3,98.56 186.5,98.54 185.7,98.58 184.9,98.44 184.1,98.34 183.3,98.52 182.5,98.58 181.7,98.39 180.9,98.58 180.1,98.36 179.3,98.54 178.5,98.39 177.7,98.59 176.9,98.6 176.1,98.46 175.3,98.41 174.5,98.44 173.7,98.33 172.9,98.41 172.1,98.41 171.3,98.44 170.5,98.55 169.7,98.46 168.9,98.59 168.1,98.59 167.3,98.36 166.5,98.52 165.7,98.57 164.9,98.51 164.1,98.39 163.3,98.44 162.5,98.36 161.7,98.58 160.9,98.39 160.1,98.57 159.3,98.58 158.5,98.47 157.7,98.82 156.9,98.76 156.1,98.73 155.3,98.85 154.5,98.76 153.7,98.67 152.9,98.78 152.1,98.86 151.3,98.76 150.5,98.77 149.7,98.74 148.9,98.54 148.1,98.37 147.3,98.33 146.5,98.47 145.7,98.58 144.9,98.57 144.1,98.45 143.3,98.57 142.5,98.44 141.7,98.48 140.9,98.4 140.1,98.38 139.3,98.56 138.5,98.58 137.7,98.5 136.9,98.32 136.1,98.47 135.3,98.5 134.5,98.55 133.7,98.55 132.9,98.42 132.1,98.44 131.3,98.68 130.5,98.53 129.7,98.67 128.9,98.68 128.1,98.6 127.3,98.72 126.5,98.7 125.7,98.77 124.9,98.69 124.1,98.87 123.3,98.65 122.5,98.7 121.7,98.79 120.9,99.1 120.1,98.93 119.3,99.1 118.5,98.99 117.7,98.94 116.9,99.28 116.1,99.5 115.3,99.67 114.5,99.93 113.7,99.59 112.9,100.15 112.1,100.36 111.3,100.25 110.5,98.51 109.7,98.59 108.9,98.33 108.1,98.36 107.3,98.59 106.5,98.37 105.7,98.39 104.9,98.35 104.1,98.46 103.3,98.6 102.5,98.35 101.7,98.42 100.9,98.36 100.1,98.56 99.3,98.42 98.5,98.36 97.7,98.33 96.9,98.37 96.1,98.34 95.3,98.5 94.5,98.43 93.7,98.54 92.9,98.54 92.1,98.34 91.3,98.49 90.5,98.51 89.7,98.48 88.9,98.44 88.1,98.39 87.3,98.46 86.5,98.38 85.7,98.36 84.9,98.57 84.1,98.44 83.3,98.56 82.5,98.57 81.7,98.45 80.9,98.56 80.1,98.39 79.3,98.54 78.5,98.35 77.7,98.45 76.9,98.51 76.1,98.4 75.3,98.6 74.5,98.52 73.7,98.51 72.9,98.58 72.1,98.45 71.3,98.49 70.5,98.41 69.7,98.78 68.9,98.82 68.1,98.75 67.3,98.85 66.5,98.61 65.7,98.68 64.9,98.89 64.1,98.78 63.3,98.83 62.5,98.68 61.7,98.79 60.9,98.44 60.1,98.38 59.3,98.34 58.5,98.42 57.7,98.48 56.9,98.55 56.1,98.35 55.3,98.4 54.5,98.33 53.7,98.43 52.9,98.59 52.1,98.38 51.3,98.55 50.5,98.35 49.7,98.44 48.9,98.46 48.1,98.42 47.3,98.34 46.5,98.36"/>
<polygon fill="#000" points="73.6,96.5 74.4,95.17 75.55,94.61 76.6,92.44 77.75,93.42 78.9,91.28 80.05,92.52 81.5,90.46 82.65,91.51 83.7,88.71 84.85,90.65 86,88.61 87.15,89.75 88.1,87.02 89.25,88.93 90.4,86.75 91.55,88.04 92.6,84.29 93.75,87.18 94.9,84.89 96.05,86.28 97.1,81.88 98.25,85.37 99.6,79.92 100.75,83.91 102,78.85 103.15,82.51 104.3,77.1 105.45,81.5 106.6,76.85 107.75,80.68 108.8,75.85 110.6,80 111.2,96.5 111.2,99.5 110.6,110 108.8,115.25 107.75,111.14 106.6,114.82 105.45,110.97 104.3,113.79 103.15,110.65 102,113.82 100.75,110.03 99.6,111.85 98.25,109.38 97.1,110.79 96.05,108.64 94.9,111.16 93.75,107.86 92.6,110.88 91.55,107.11 90.4,108.55 89.25,106.29 88.1,107.74 87.15,105.47 86,106.75 84.85,104.57 83.7,105.32 82.65,103.71 81.5,105.1 80.05,102.7 78.9,103.12 77.75,101.8 76.6,101.99 75.55,100.75 74.4,100.36 73.6,99.5"/>
<path d="M69.9 93.8V102.7" stroke="#000" stroke-width="1.2"/>
<path d="M74.4 88.6L75.02 92L75.7 98L75.02 104.22L74.4 107.8L73.78 104.22L73.1 98L73.78 92ZM76.6 81.9L77.22 88.32L77.9 98L77.22 107.9L76.6 114.5L75.98 107.9L75.3 98L75.98 88.32ZM78.9 85.5L79.52 90.3L80.2 98L79.52 107.08L78.9 113L78.28 107.08L77.6 98L78.28 90.3ZM81.5 73.8L82.12 83.86L82.8 98L82.12 110.32L81.5 118.9L80.88 110.32L80.2 98L80.88 83.86ZM83.7 68.9L84.32 81.17L85 98L84.32 114.45L83.7 126.4L83.08 114.45L82.4 98L83.08 81.17ZM86 72.3L86.62 83.04L87.3 98L86.62 113.62L86 124.9L85.38 113.62L84.7 98L85.38 83.04ZM88.1 65.6L88.72 79.35L89.4 98L88.72 116.87L88.1 130.8L87.48 116.87L86.8 98L87.48 79.35ZM90.4 64.2L91.02 78.59L91.7 98L91.02 115.22L90.4 127.8L89.78 115.22L89.1 98L89.78 78.59ZM92.6 62.7L93.22 77.76L93.9 98L93.22 118.73L92.6 134.2L91.98 118.73L91.3 98L91.98 77.76ZM94.9 63.4L95.52 78.14L96.2 98L95.52 117.25L94.9 131.5L94.28 117.25L93.6 98L94.28 78.14ZM97.1 59.7L97.72 76.11L98.4 98L97.72 118.9L97.1 134.5L96.48 118.9L95.8 98L96.48 76.11ZM99.6 44.6L100.22 67.81L100.9 98L100.22 128.53L99.6 152L98.98 128.53L98.3 98L98.98 67.81ZM102 50.1L102.62 70.83L103.3 98L102.62 125.83L102 147.1L101.38 125.83L100.7 98L101.38 70.83ZM104.3 52.3L104.92 72.04L105.6 98L104.92 123.13L104.3 142.2L103.68 123.13L103 98L103.68 72.04ZM106.6 59L107.22 75.72L107.9 98L107.22 121.76L106.6 139.7L105.98 121.76L105.3 98L105.98 75.72ZM108.8 67.9L109.42 80.62L110.1 98L109.42 116.87L108.8 130.8L108.18 116.87L107.5 98L108.18 80.62Z" fill="#000" opacity="0.8"/>
<path d="M74.4 87.1V109.3M76.6 80.4V116M78.9 84V114.5M81.5 72.3V120.4M83.7 67.4V127.9M86 70.8V126.4M88.1 64.1V132.3M90.4 62.7V129.3M92.6 61.2V135.7M94.9 61.9V133M97.1 58.2V136M99.6 43.1V153.5M102 48.6V148.6M104.3 50.8V143.7M106.6 57.5V141.2M108.8 66.4V132.3" stroke="#000" stroke-width="1" opacity="0.9"/>
<path d="M75.5 92.25V103.96M77.7 90.65V106.67M80 92.04V105.02M82.6 83.39V110.74M84.8 83.38V113.26M87.1 85.04V111.53M89.2 77.55V116.88M91.5 76.57V117.01M93.7 78.87V116.55M96 81.28V114.21M98.2 76.76V118.28M100.7 75.98V120.55M103.1 76.72V118.6M105.4 76.8V120.61M107.7 84.03V113.16" stroke="#000" stroke-width="1.1" opacity="0.42"/>
<polygon fill="#000" points="161.6,96.5 162.1,95.92 163.25,95.22 164.6,93.69 165.75,93.92 166.8,92.82 167.95,93.21 169.2,91.07 170.35,92.36 171.5,90.72 172.65,91.16 173.7,88.84 174.85,90.02 175.7,88.02 176.85,88.87 177.9,84.42 179.05,87.44 180.1,82.91 181.25,86.01 182.4,80.75 183.55,85.44 184.7,80.66 185.85,85.33 187.3,82.82 188.45,85.21 189.8,80.4 190.95,85.48 192.3,83.15 193.45,86.39 194.7,84.72 195.85,87.27 196.4,85.18 198,88 199,96.5 199,99.5 198,107 196.4,111.61 195.85,108.27 194.7,112.36 193.45,108.86 192.3,112.8 190.95,109.47 189.8,111.66 188.45,109.59 187.3,113.38 185.85,109.42 184.7,113.48 183.55,109.26 182.4,112.17 181.25,108.78 180.1,110.24 179.05,107.7 177.9,110.08 176.85,106.61 175.7,108.89 174.85,105.67 173.7,107.81 172.65,104.67 171.5,105.8 170.35,103.62 169.2,104.55 167.95,102.66 166.8,103.57 165.75,101.8 164.6,102.36 163.25,100.51 162.1,100 161.6,99.5"/>
<path d="M158.2 94.5V102.7" stroke="#000" stroke-width="1.2"/>
<path d="M162.1 87.1L162.72 91.18L163.4 98L162.72 105.04L162.1 109.3L161.48 105.04L160.8 98L161.48 91.18ZM164.6 84.9L165.22 89.97L165.9 98L165.22 107.08L164.6 113L163.98 107.08L163.3 98L163.98 89.97ZM166.8 79.7L167.42 87.11L168.1 98L167.42 109.55L166.8 117.5L166.18 109.55L165.5 98L166.18 87.11ZM169.2 72.3L169.82 83.04L170.5 98L169.82 112.8L169.2 123.4L168.58 112.8L167.9 98L168.58 83.04ZM171.5 74.5L172.12 84.25L172.8 98L172.12 110.32L171.5 118.9L170.88 110.32L170.2 98L170.88 84.25ZM173.7 73.1L174.32 83.48L175 98L174.32 111.97L173.7 121.9L173.08 111.97L172.4 98L173.08 83.48ZM175.7 60.5L176.32 76.55L177 98L176.32 119.28L175.7 135.2L175.08 119.28L174.4 98L175.08 76.55ZM177.9 52.3L178.52 72.04L179.2 98L178.52 123.8L177.9 143.4L177.28 123.8L176.6 98L177.28 72.04ZM180.1 50.1L180.72 70.83L181.4 98L180.72 122.15L180.1 140.4L179.48 122.15L178.8 98L179.48 70.83ZM182.4 48.6L183.02 70L183.7 98L183.02 124.62L182.4 144.9L181.78 124.62L181.1 98L181.78 70ZM184.7 52.3L185.32 72.04L186 98L185.32 123.35L184.7 142.6L184.08 123.35L183.4 98L184.08 72.04ZM187.3 49.6L187.92 70.56L188.6 98L187.92 125.45L187.3 146.4L186.68 125.45L186 98L186.68 70.56ZM189.8 56L190.42 74.08L191.1 98L190.42 120.55L189.8 137.5L189.18 120.55L188.5 98L189.18 74.08ZM192.3 48.2L192.92 69.78L193.6 98L192.92 125L192.3 145.6L191.68 125L191 98L191.68 69.78ZM194.7 69.4L195.32 81.45L196 98L195.32 114.83L194.7 127.1L194.08 114.83L193.4 98L194.08 81.45ZM196.4 76L197.02 85.08L197.7 98L197.02 112.35L196.4 122.6L195.78 112.35L195.1 98L195.78 85.08Z" fill="#000" opacity="0.8"/>
<path d="M162.1 85.6V110.8M164.6 83.4V114.5M166.8 78.2V119M169.2 70.8V124.9M171.5 73V120.4M173.7 71.6V123.4M175.7 59V136.7M177.9 50.8V144.9M180.1 48.6V141.9M182.4 47.1V146.4M184.7 50.8V144.1M187.3 48.1V147.9M189.8 54.5V139M192.3 46.7V147.1M194.7 67.9V128.6M196.4 74.5V124.1" stroke="#000" stroke-width="1" opacity="0.9"/>
<path d="M163.2 92.36V103.82M165.7 90.11V106.92M167.9 85.31V111.46M170.3 86.25V108.53M172.6 85.92V108.82M174.8 83.71V111.75M176.8 78.63V117.22M179 77.76V116.83M181.2 75.09V118.36M183.5 76.35V119.15M185.8 67.57V127.72M188.4 72.63V121.91M190.9 70.38V124.03M193.4 84.14V112.09M195.8 83.7V113.88" stroke="#000" stroke-width="1.1" opacity="0.42"/>
<polygon fill="#000" points="251.8,96.5 252.3,95.99 253.45,95.07 254.8,92.83 255.95,93.35 257,90.86 258.15,92.06 259.3,89.49 260.45,90.72 261.5,88.7 262.65,89.56 263.5,86.6 264.65,88.78 265.6,85.16 266.75,87.96 267.9,83.5 269.05,87.06 270.1,83.99 271.25,86.51 272.5,83.34 273.65,86.16 274.8,82.08 275.95,85.82 277.3,81.38 278.45,85.52 279.7,81.76 280.85,85.52 282.2,81.91 283.35,85.52 284.4,83.25 285.55,87.25 286.3,86.48 288.2,92 289,96.5 289,99.5 288.2,103 286.3,107.98 285.55,107.3 284.4,110.32 283.35,109.15 282.2,112.58 280.85,109.15 279.7,113.4 278.45,109.15 277.3,111.46 275.95,109.01 274.8,110.74 273.65,108.86 272.5,110.88 271.25,108.69 270.1,112.12 269.05,108.32 267.9,110.84 266.75,107.63 265.6,109.27 264.65,106.99 263.5,108.76 262.65,106.39 261.5,108.89 260.45,105.21 259.3,106.8 258.15,103.75 257,104.44 255.95,102.36 254.8,102.49 253.45,100.63 252.3,100.06 251.8,99.5"/>
<path d="M248.1 94.5V101.9" stroke="#000" stroke-width="1.2"/>
<path d="M252.3 88.6L252.92 92L253.6 98L252.92 104.66L252.3 108.6L251.68 104.66L251 98L251.68 92ZM254.8 81.9L255.42 88.32L256.1 98L255.42 107.52L254.8 113.8L254.18 107.52L253.5 98L254.18 88.32ZM257 78.2L257.62 86.28L258.3 98L257.62 109.94L257 118.2L256.38 109.94L255.7 98L256.38 86.28ZM259.3 77.2L259.92 85.73L260.6 98L259.92 111.15L259.3 120.4L258.68 111.15L258 98L258.68 85.73ZM261.5 74.5L262.12 84.25L262.8 98L262.12 112.35L261.5 122.6L260.88 112.35L260.2 98L260.88 84.25ZM263.5 73.1L264.12 83.48L264.8 98L264.12 113.18L263.5 124.1L262.88 113.18L262.2 98L262.88 83.48ZM265.6 67.1L266.22 80.18L266.9 98L266.22 116.48L265.6 130.1L264.98 116.48L264.3 98L264.98 80.18ZM267.9 69.4L268.52 81.45L269.2 98L268.52 114.83L267.9 127.1L267.28 114.83L266.6 98L267.28 81.45ZM270.1 63.4L270.72 78.14L271.4 98L270.72 119.28L270.1 135.2L269.48 119.28L268.8 98L269.48 78.14ZM272.5 66.4L273.12 79.8L273.8 98L273.12 117.25L272.5 131.5L271.88 117.25L271.2 98L271.88 79.8ZM274.8 48.2L275.42 69.78L276.1 98L275.42 124.18L274.8 144.1L274.18 124.18L273.5 98L274.18 69.78ZM277.3 60.5L277.92 76.55L278.6 98L277.92 118.52L277.3 133.8L276.68 118.52L276 98L276.68 76.55ZM279.7 61.2L280.32 76.94L281 98L280.32 118.9L279.7 134.5L279.08 118.9L278.4 98L279.08 76.94ZM282.2 59L282.82 75.72L283.5 98L282.82 120.93L282.2 138.2L281.58 120.93L280.9 98L281.58 75.72ZM284.4 63.4L285.02 78.14L285.7 98L285.02 118.52L284.4 133.8L283.78 118.52L283.1 98L283.78 78.14ZM286.3 79.5L286.92 87L287.6 98L286.92 109.11L286.3 116.7L285.68 109.11L285 98L285.68 87Z" fill="#000" opacity="0.8"/>
<path d="M252.3 87.1V110.1M254.8 80.4V115.3M257 76.7V119.7M259.3 75.7V121.9M261.5 73V124.1M263.5 71.6V125.6M265.6 65.6V131.6M267.9 67.9V128.6M270.1 61.9V136.7M272.5 64.9V133M274.8 46.7V145.6M277.3 59V135.3M279.7 59.7V136M282.2 57.5V139.7M284.4 61.9V135.3M286.3 78V118.2" stroke="#000" stroke-width="1" opacity="0.9"/>
<path d="M253.4 91.81V104.87M255.9 88.78V107.06M258.1 86.43V109.78M260.4 83.84V113.17M262.6 86.71V109.79M264.6 85.47V111.1M266.7 80.64V115.65M269 85.2V111.02M271.2 84.08V112.72M273.6 81.28V115.68M275.9 80.62V114.62M278.4 78.63V116.86M280.8 79.85V116.01M283.3 77.78V118.89M285.5 86.77V109.34" stroke="#000" stroke-width="1.1" opacity="0.42"/>
<polygon fill="#000" points="337.6,96.5 338.1,96.11 339.25,95.49 340.6,93.66 341.75,93.96 342.8,91.71 343.95,92.8 345,91.16 346.15,91.64 347.2,89.01 348.35,90.55 349.3,87.61 350.45,89.81 351.5,87.6 352.65,89.04 353.6,85.89 354.75,88.3 355.7,85.61 356.85,87.73 358,84.87 359.15,87.37 360.4,83.68 361.55,86.99 362.6,82.78 363.75,86.65 364.8,83.3 365.95,86.31 367,83.75 368.15,86.1 369.3,81.99 370.45,85.89 371.5,82.37 372.65,85.69 373.7,83.28 375.8,86 377,96.5 377,99.5 375.8,108 373.7,112.83 372.65,110.41 371.5,115.08 370.45,110.51 369.3,112.53 368.15,110.62 367,112.79 365.95,110.71 364.8,113.63 363.75,110.36 362.6,112.18 361.55,110.02 360.4,112.34 359.15,109.65 358,113.71 356.85,109.29 355.7,112.41 354.75,108.75 353.6,111.33 352.65,108.08 351.5,109.23 350.45,107.37 349.3,109.22 348.35,106.69 347.2,108.89 346.15,105.32 345,105.68 343.95,103.82 342.8,104.09 341.75,102.31 340.6,102.18 339.25,100.51 338.1,100.05 337.6,99.5"/>
<path d="M334.6 94.5V102.7" stroke="#000" stroke-width="1.2"/>
<path d="M338.1 88.6L338.72 92L339.4 98L338.72 103.83L338.1 107.1L337.48 103.83L336.8 98L337.48 92ZM340.6 84.2L341.22 89.59L341.9 98L341.22 106.69L340.6 112.3L339.98 106.69L339.3 98L339.98 89.59ZM342.8 81.9L343.42 88.32L344.1 98L343.42 107.52L342.8 113.8L342.18 107.52L341.5 98L342.18 88.32ZM345 74.5L345.62 84.25L346.3 98L345.62 111.97L345 121.9L344.38 111.97L343.7 98L344.38 84.25ZM347.2 71.6L347.82 82.66L348.5 98L347.82 110.32L347.2 118.9L346.58 110.32L345.9 98L346.58 82.66ZM349.3 68.6L349.92 81L350.6 98L349.92 115.22L349.3 127.8L348.68 115.22L348 98L348.68 81ZM351.5 61.2L352.12 76.94L352.8 98L352.12 118.52L351.5 133.8L350.88 118.52L350.2 98L350.88 76.94ZM353.6 61.9L354.22 77.32L354.9 98L354.22 117.25L353.6 131.5L352.98 117.25L352.3 98L352.98 77.32ZM355.7 44.9L356.32 67.97L357 98L356.32 125.83L355.7 147.1L355.08 125.83L354.4 98L355.08 67.97ZM358 58.2L358.62 75.28L359.3 98L358.62 120.55L358 137.5L357.38 120.55L356.7 98L357.38 75.28ZM360.4 43.4L361.02 67.14L361.7 98L361.02 129.52L360.4 153.8L359.78 129.52L359.1 98L359.78 67.14ZM362.6 48.6L363.22 70L363.9 98L363.22 128.25L362.6 151.5L361.98 128.25L361.3 98L361.98 70ZM364.8 56L365.42 74.08L366.1 98L365.42 122.58L364.8 141.2L364.18 122.58L363.5 98L364.18 74.08ZM367 55.3L367.62 73.69L368.3 98L367.62 121.32L367 138.9L366.38 121.32L365.7 98L366.38 73.69ZM369.3 59.7L369.92 76.11L370.6 98L369.92 117.69L369.3 132.3L368.68 117.69L368 98L368.68 76.11ZM371.5 55.3L372.12 73.69L372.8 98L372.12 122.15L371.5 140.4L370.88 122.15L370.2 98L370.88 73.69ZM373.7 64.9L374.32 78.97L375 98L374.32 117.25L373.7 131.5L373.08 117.25L372.4 98L373.08 78.97Z" fill="#000" opacity="0.8"/>
<path d="M338.1 87.1V108.6M340.6 82.7V113.8M342.8 80.4V115.3M345 73V123.4M347.2 70.1V120.4M349.3 67.1V129.3M351.5 59.7V135.3M353.6 60.4V133M355.7 43.4V148.6M358 56.7V139M360.4 41.9V155.3M362.6 47.1V153M364.8 54.5V142.7M367 53.8V140.4M369.3 58.2V133.8M371.5 53.8V141.9M373.7 63.4V133" stroke="#000" stroke-width="1" opacity="0.9"/>
<path d="M339.2 91.83V104M341.7 89.71V106.56M343.9 87.9V107.93M346.1 82.62V111.78M348.3 85.11V108.35M350.4 82.73V113.47M352.6 79.5V115.22M354.7 81.77V113.11M356.8 71.84V123.97M359.1 72.89V122.92M361.5 67.88V130.54M363.7 79.66V116.84M365.9 70.91V124.4M368.1 74.17V119.44M370.4 76.84V117.03M372.6 77.31V118.93" stroke="#000" stroke-width="1.1" opacity="0.42"/>
</g>
<g id="axes">
<rect x="46" y="9.2" width="377.2" height="178.5" fill="none" stroke="#1a1a1a" stroke-width="1.7"/>
<rect x="46" y="216.7" width="377.2" height="178.1" fill="none" stroke="#1a1a1a" stroke-width="1.7"/>
<path d="M97.6 187.6V185.2M153 187.6V185.2M208.2 187.6V185.2M263.6 187.6V185.2M318.7 187.6V185.2M374.2 187.6V185.2M97.6 394.8V392.4M153 394.8V392.4M208.2 394.8V392.4M263.6 394.8V392.4M318.7 394.8V392.4M374.2 394.8V392.4M46 49.1H48.6M46 145H48.6M46 376.99H48.8M46 359.18H48.8M46 341.37H48.8M46 323.56H48.8M46 305.75H49.2M46 287.94H48.8M46 270.13H48.8M46 252.32H48.8M46 234.51H48.8" stroke="#1a1a1a" stroke-width="1" fill="none"/>
</g>
<g id="annotations">
<path d="M162.5 46.3C162.6 44 163.8 43 166.2 43H175.6C178.2 43 179.6 42.4 180.3 40.7C181 42.4 182.4 43 185 43H196C198.4 43 199.6 44 199.7 46.3" fill="none" stroke="#111" stroke-width="1.5" stroke-linecap="round" stroke-linejoin="round"/>
<path d="M356.3 38.3L358.9 32.2L370.9 49.3" fill="none" stroke="#111" stroke-width="1.35"/>
<path d="M358.9 31.6L357.8 36L360.9 35.4Z" fill="#111"/>
</g>
<g id="labels" opacity="0.995">
<text x="0.4" y="8.8" font-size="15" text-anchor="start">a</text>
<text x="0.2" y="221.9" font-size="16" text-anchor="start">b</text>
<text x="42.6" y="13.1" font-size="11.3" text-anchor="end">100</text>
<text x="42.6" y="57.7" font-size="11.3" text-anchor="end">50</text>
<text x="42.6" y="102.4" font-size="11.3" text-anchor="end">0</text>
<text x="42.8" y="147" font-size="11.3" text-anchor="end" letter-spacing="0.2">-50</text>
<text x="42.8" y="191.6" font-size="11.3" text-anchor="end" letter-spacing="0.2">-100</text>
<text x="42.8" y="221" font-size="11.5" text-anchor="end" letter-spacing="0.35">10</text>
<text x="42.8" y="310" font-size="11.5" text-anchor="end" letter-spacing="0.35">5</text>
<text x="42.8" y="399.7" font-size="11.5" text-anchor="end" letter-spacing="0.35">0</text>
<text x="45.7" y="408.7" font-size="11.5" text-anchor="middle" letter-spacing="0.35">0</text>
<text x="98.1" y="408.7" font-size="11.5" text-anchor="middle" letter-spacing="0.35">100</text>
<text x="153.5" y="408.7" font-size="11.5" text-anchor="middle" letter-spacing="0.35">200</text>
<text x="208.7" y="408.7" font-size="11.5" text-anchor="middle" letter-spacing="0.35">300</text>
<text x="264.1" y="408.7" font-size="11.5" text-anchor="middle" letter-spacing="0.35">400</text>
<text x="319.2" y="408.7" font-size="11.5" text-anchor="middle" letter-spacing="0.35">500</text>
<text x="374.7" y="408.7" font-size="11.5" text-anchor="middle" letter-spacing="0.35">600</text>
<text x="235.4" y="428.1" font-size="14.2" text-anchor="middle">Time [ms]</text>
<text transform="translate(16.6 97.6) rotate(-90)" font-size="14.5" text-anchor="middle">Amplitude [%]</text>
<text transform="translate(16.6 304.6) rotate(-90)" font-size="14.3" text-anchor="middle">Frequency [kHz]</text>
<text x="181" y="31.2" font-size="11.2" text-anchor="middle">call duration</text>
<text x="359" y="31.3" font-size="11.2" text-anchor="middle">pulses</text>
</g>
</svg>
</body></html>
